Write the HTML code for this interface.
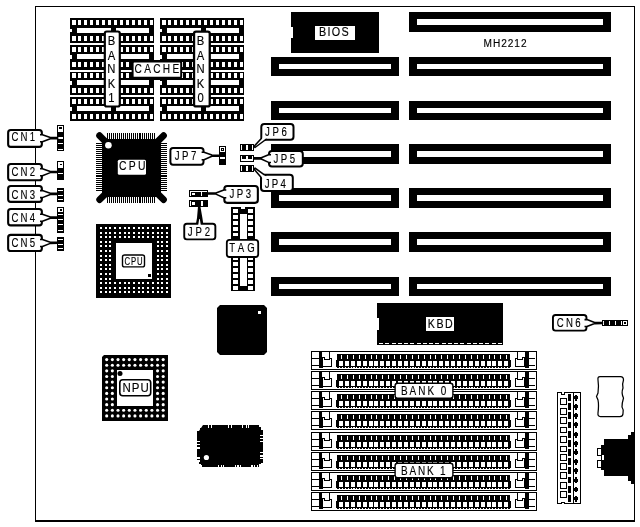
<!DOCTYPE html>
<html lang="en">
<head>
<meta charset="utf-8">
<title>MH2212 motherboard layout</title>
<style>
html,body{margin:0;padding:0;background:#fff;}
body{width:640px;height:527px;overflow:hidden;}
svg{display:block;will-change:transform;}
svg text{font-family:"Liberation Sans",sans-serif;fill:#000;stroke:#000;stroke-width:0.15px;}
</style>
</head>
<body>
<svg width="640" height="527" viewBox="0 0 640 527">
<rect x="0" y="0" width="640" height="527" fill="#fff"/>
<g shape-rendering="crispEdges">
<rect x="35" y="6" width="600" height="1" fill="#000"/>
<rect x="35" y="6" width="1" height="516" fill="#000"/>
<rect x="634" y="6" width="1" height="516" fill="#000"/>
<rect x="35" y="520" width="600" height="2" fill="#000"/>
<rect x="409" y="12" width="202" height="20" fill="#000"/>
<rect x="417" y="19" width="186" height="6" fill="#fff"/>
<rect x="409" y="57" width="202" height="19" fill="#000"/>
<rect x="417" y="64" width="186" height="5" fill="#fff"/>
<rect x="271" y="57" width="128" height="19" fill="#000"/>
<rect x="279" y="64" width="112" height="5" fill="#fff"/>
<rect x="409" y="101" width="202" height="19" fill="#000"/>
<rect x="417" y="108" width="186" height="5" fill="#fff"/>
<rect x="271" y="101" width="128" height="19" fill="#000"/>
<rect x="279" y="108" width="112" height="5" fill="#fff"/>
<rect x="409" y="144" width="202" height="20" fill="#000"/>
<rect x="417" y="151" width="186" height="6" fill="#fff"/>
<rect x="271" y="144" width="128" height="20" fill="#000"/>
<rect x="279" y="151" width="112" height="6" fill="#fff"/>
<rect x="409" y="188" width="202" height="20" fill="#000"/>
<rect x="417" y="195" width="186" height="6" fill="#fff"/>
<rect x="271" y="188" width="128" height="20" fill="#000"/>
<rect x="279" y="195" width="112" height="6" fill="#fff"/>
<rect x="409" y="232" width="202" height="20" fill="#000"/>
<rect x="417" y="239" width="186" height="6" fill="#fff"/>
<rect x="271" y="232" width="128" height="20" fill="#000"/>
<rect x="279" y="239" width="112" height="6" fill="#fff"/>
<rect x="409" y="277" width="202" height="19" fill="#000"/>
<rect x="417" y="284" width="186" height="5" fill="#fff"/>
<rect x="271" y="277" width="128" height="19" fill="#000"/>
<rect x="279" y="284" width="112" height="5" fill="#fff"/>
<rect x="291" y="12" width="88" height="41" fill="#000"/>
<rect x="291" y="27" width="2" height="11" fill="#fff"/>
<rect x="314.7" y="26.3" width="40.3" height="13.5" fill="#fff"/>
<rect x="377" y="303" width="126" height="42" fill="#000"/>
<rect x="377" y="318" width="2" height="12" fill="#fff"/>
<rect x="379" y="343" width="4" height="1" fill="#fff"/>
<rect x="385.25" y="343" width="4" height="1" fill="#fff"/>
<rect x="391.5" y="343" width="4" height="1" fill="#fff"/>
<rect x="397.75" y="343" width="4" height="1" fill="#fff"/>
<rect x="404" y="343" width="4" height="1" fill="#fff"/>
<rect x="410.25" y="343" width="4" height="1" fill="#fff"/>
<rect x="416.5" y="343" width="4" height="1" fill="#fff"/>
<rect x="422.75" y="343" width="4" height="1" fill="#fff"/>
<rect x="429" y="343" width="4" height="1" fill="#fff"/>
<rect x="435.25" y="343" width="4" height="1" fill="#fff"/>
<rect x="441.5" y="343" width="4" height="1" fill="#fff"/>
<rect x="447.75" y="343" width="4" height="1" fill="#fff"/>
<rect x="454" y="343" width="4" height="1" fill="#fff"/>
<rect x="460.25" y="343" width="4" height="1" fill="#fff"/>
<rect x="466.5" y="343" width="4" height="1" fill="#fff"/>
<rect x="472.75" y="343" width="4" height="1" fill="#fff"/>
<rect x="479" y="343" width="4" height="1" fill="#fff"/>
<rect x="485.25" y="343" width="4" height="1" fill="#fff"/>
<rect x="491.5" y="343" width="4" height="1" fill="#fff"/>
<rect x="497.75" y="343" width="4" height="1" fill="#fff"/>
<rect x="426" y="316.6" width="28" height="14.4" fill="#fff"/>
<rect x="70" y="18" width="84" height="25" fill="#000"/>
<rect x="77" y="28.4" width="72" height="4.4" fill="#fff"/>
<rect x="70" y="29.2" width="2" height="2.8" fill="#fff"/>
<rect x="72" y="20" width="4" height="5" fill="#fff"/>
<rect x="72" y="36" width="4" height="5" fill="#fff"/>
<rect x="78" y="20" width="3" height="5" fill="#fff"/>
<rect x="78" y="36" width="3" height="5" fill="#fff"/>
<rect x="84" y="20" width="3" height="5" fill="#fff"/>
<rect x="84" y="36" width="3" height="5" fill="#fff"/>
<rect x="90" y="20" width="3" height="5" fill="#fff"/>
<rect x="90" y="36" width="3" height="5" fill="#fff"/>
<rect x="96" y="20" width="3" height="5" fill="#fff"/>
<rect x="96" y="36" width="3" height="5" fill="#fff"/>
<rect x="102" y="20" width="3" height="5" fill="#fff"/>
<rect x="102" y="36" width="3" height="5" fill="#fff"/>
<rect x="108" y="20" width="3" height="5" fill="#fff"/>
<rect x="108" y="36" width="3" height="5" fill="#fff"/>
<rect x="114" y="20" width="3" height="5" fill="#fff"/>
<rect x="114" y="36" width="3" height="5" fill="#fff"/>
<rect x="120" y="20" width="3" height="5" fill="#fff"/>
<rect x="120" y="36" width="3" height="5" fill="#fff"/>
<rect x="126" y="20" width="3" height="5" fill="#fff"/>
<rect x="126" y="36" width="3" height="5" fill="#fff"/>
<rect x="132" y="20" width="3" height="5" fill="#fff"/>
<rect x="132" y="36" width="3" height="5" fill="#fff"/>
<rect x="138" y="20" width="3" height="5" fill="#fff"/>
<rect x="138" y="36" width="3" height="5" fill="#fff"/>
<rect x="144" y="20" width="3" height="5" fill="#fff"/>
<rect x="144" y="36" width="3" height="5" fill="#fff"/>
<rect x="150" y="20" width="3" height="5" fill="#fff"/>
<rect x="150" y="36" width="3" height="5" fill="#fff"/>
<rect x="70" y="45" width="84" height="24.5" fill="#000"/>
<rect x="77" y="54.4" width="72" height="4.9" fill="#fff"/>
<rect x="70" y="55.2" width="2" height="3.3" fill="#fff"/>
<rect x="72" y="47" width="4" height="5" fill="#fff"/>
<rect x="72" y="62" width="4" height="5" fill="#fff"/>
<rect x="78" y="47" width="3" height="5" fill="#fff"/>
<rect x="78" y="62" width="3" height="5" fill="#fff"/>
<rect x="84" y="47" width="3" height="5" fill="#fff"/>
<rect x="84" y="62" width="3" height="5" fill="#fff"/>
<rect x="90" y="47" width="3" height="5" fill="#fff"/>
<rect x="90" y="62" width="3" height="5" fill="#fff"/>
<rect x="96" y="47" width="3" height="5" fill="#fff"/>
<rect x="96" y="62" width="3" height="5" fill="#fff"/>
<rect x="102" y="47" width="3" height="5" fill="#fff"/>
<rect x="102" y="62" width="3" height="5" fill="#fff"/>
<rect x="108" y="47" width="3" height="5" fill="#fff"/>
<rect x="108" y="62" width="3" height="5" fill="#fff"/>
<rect x="114" y="47" width="3" height="5" fill="#fff"/>
<rect x="114" y="62" width="3" height="5" fill="#fff"/>
<rect x="120" y="47" width="3" height="5" fill="#fff"/>
<rect x="120" y="62" width="3" height="5" fill="#fff"/>
<rect x="126" y="47" width="3" height="5" fill="#fff"/>
<rect x="126" y="62" width="3" height="5" fill="#fff"/>
<rect x="132" y="47" width="3" height="5" fill="#fff"/>
<rect x="132" y="62" width="3" height="5" fill="#fff"/>
<rect x="138" y="47" width="3" height="5" fill="#fff"/>
<rect x="138" y="62" width="3" height="5" fill="#fff"/>
<rect x="144" y="47" width="3" height="5" fill="#fff"/>
<rect x="144" y="62" width="3" height="5" fill="#fff"/>
<rect x="150" y="47" width="3" height="5" fill="#fff"/>
<rect x="150" y="62" width="3" height="5" fill="#fff"/>
<rect x="70" y="71.5" width="84" height="23.5" fill="#000"/>
<rect x="77" y="80.4" width="72" height="5" fill="#fff"/>
<rect x="70" y="81.2" width="2" height="3.4" fill="#fff"/>
<rect x="72" y="73" width="4" height="5" fill="#fff"/>
<rect x="72" y="88" width="4" height="4.8" fill="#fff"/>
<rect x="78" y="73" width="3" height="5" fill="#fff"/>
<rect x="78" y="88" width="3" height="4.8" fill="#fff"/>
<rect x="84" y="73" width="3" height="5" fill="#fff"/>
<rect x="84" y="88" width="3" height="4.8" fill="#fff"/>
<rect x="90" y="73" width="3" height="5" fill="#fff"/>
<rect x="90" y="88" width="3" height="4.8" fill="#fff"/>
<rect x="96" y="73" width="3" height="5" fill="#fff"/>
<rect x="96" y="88" width="3" height="4.8" fill="#fff"/>
<rect x="102" y="73" width="3" height="5" fill="#fff"/>
<rect x="102" y="88" width="3" height="4.8" fill="#fff"/>
<rect x="108" y="73" width="3" height="5" fill="#fff"/>
<rect x="108" y="88" width="3" height="4.8" fill="#fff"/>
<rect x="114" y="73" width="3" height="5" fill="#fff"/>
<rect x="114" y="88" width="3" height="4.8" fill="#fff"/>
<rect x="120" y="73" width="3" height="5" fill="#fff"/>
<rect x="120" y="88" width="3" height="4.8" fill="#fff"/>
<rect x="126" y="73" width="3" height="5" fill="#fff"/>
<rect x="126" y="88" width="3" height="4.8" fill="#fff"/>
<rect x="132" y="73" width="3" height="5" fill="#fff"/>
<rect x="132" y="88" width="3" height="4.8" fill="#fff"/>
<rect x="138" y="73" width="3" height="5" fill="#fff"/>
<rect x="138" y="88" width="3" height="4.8" fill="#fff"/>
<rect x="144" y="73" width="3" height="5" fill="#fff"/>
<rect x="144" y="88" width="3" height="4.8" fill="#fff"/>
<rect x="150" y="73" width="3" height="5" fill="#fff"/>
<rect x="150" y="88" width="3" height="4.8" fill="#fff"/>
<rect x="70" y="96.6" width="84" height="24" fill="#000"/>
<rect x="77" y="105.9" width="72" height="5.4" fill="#fff"/>
<rect x="70" y="106.7" width="2" height="3.8" fill="#fff"/>
<rect x="72" y="99" width="4" height="5" fill="#fff"/>
<rect x="72" y="114" width="4" height="5" fill="#fff"/>
<rect x="78" y="99" width="3" height="5" fill="#fff"/>
<rect x="78" y="114" width="3" height="5" fill="#fff"/>
<rect x="84" y="99" width="3" height="5" fill="#fff"/>
<rect x="84" y="114" width="3" height="5" fill="#fff"/>
<rect x="90" y="99" width="3" height="5" fill="#fff"/>
<rect x="90" y="114" width="3" height="5" fill="#fff"/>
<rect x="96" y="99" width="3" height="5" fill="#fff"/>
<rect x="96" y="114" width="3" height="5" fill="#fff"/>
<rect x="102" y="99" width="3" height="5" fill="#fff"/>
<rect x="102" y="114" width="3" height="5" fill="#fff"/>
<rect x="108" y="99" width="3" height="5" fill="#fff"/>
<rect x="108" y="114" width="3" height="5" fill="#fff"/>
<rect x="114" y="99" width="3" height="5" fill="#fff"/>
<rect x="114" y="114" width="3" height="5" fill="#fff"/>
<rect x="120" y="99" width="3" height="5" fill="#fff"/>
<rect x="120" y="114" width="3" height="5" fill="#fff"/>
<rect x="126" y="99" width="3" height="5" fill="#fff"/>
<rect x="126" y="114" width="3" height="5" fill="#fff"/>
<rect x="132" y="99" width="3" height="5" fill="#fff"/>
<rect x="132" y="114" width="3" height="5" fill="#fff"/>
<rect x="138" y="99" width="3" height="5" fill="#fff"/>
<rect x="138" y="114" width="3" height="5" fill="#fff"/>
<rect x="144" y="99" width="3" height="5" fill="#fff"/>
<rect x="144" y="114" width="3" height="5" fill="#fff"/>
<rect x="150" y="99" width="3" height="5" fill="#fff"/>
<rect x="150" y="114" width="3" height="5" fill="#fff"/>
<rect x="160" y="18" width="84" height="25" fill="#000"/>
<rect x="167" y="28.4" width="72" height="4.4" fill="#fff"/>
<rect x="160" y="29.2" width="2" height="2.8" fill="#fff"/>
<rect x="162" y="20" width="4" height="5" fill="#fff"/>
<rect x="162" y="36" width="4" height="5" fill="#fff"/>
<rect x="168" y="20" width="3" height="5" fill="#fff"/>
<rect x="168" y="36" width="3" height="5" fill="#fff"/>
<rect x="174" y="20" width="3" height="5" fill="#fff"/>
<rect x="174" y="36" width="3" height="5" fill="#fff"/>
<rect x="180" y="20" width="3" height="5" fill="#fff"/>
<rect x="180" y="36" width="3" height="5" fill="#fff"/>
<rect x="186" y="20" width="3" height="5" fill="#fff"/>
<rect x="186" y="36" width="3" height="5" fill="#fff"/>
<rect x="192" y="20" width="3" height="5" fill="#fff"/>
<rect x="192" y="36" width="3" height="5" fill="#fff"/>
<rect x="198" y="20" width="3" height="5" fill="#fff"/>
<rect x="198" y="36" width="3" height="5" fill="#fff"/>
<rect x="204" y="20" width="3" height="5" fill="#fff"/>
<rect x="204" y="36" width="3" height="5" fill="#fff"/>
<rect x="210" y="20" width="3" height="5" fill="#fff"/>
<rect x="210" y="36" width="3" height="5" fill="#fff"/>
<rect x="216" y="20" width="3" height="5" fill="#fff"/>
<rect x="216" y="36" width="3" height="5" fill="#fff"/>
<rect x="222" y="20" width="3" height="5" fill="#fff"/>
<rect x="222" y="36" width="3" height="5" fill="#fff"/>
<rect x="228" y="20" width="3" height="5" fill="#fff"/>
<rect x="228" y="36" width="3" height="5" fill="#fff"/>
<rect x="234" y="20" width="3" height="5" fill="#fff"/>
<rect x="234" y="36" width="3" height="5" fill="#fff"/>
<rect x="240" y="20" width="3" height="5" fill="#fff"/>
<rect x="240" y="36" width="3" height="5" fill="#fff"/>
<rect x="160" y="45" width="84" height="24.5" fill="#000"/>
<rect x="167" y="54.4" width="72" height="4.9" fill="#fff"/>
<rect x="160" y="55.2" width="2" height="3.3" fill="#fff"/>
<rect x="162" y="47" width="4" height="5" fill="#fff"/>
<rect x="162" y="62" width="4" height="5" fill="#fff"/>
<rect x="168" y="47" width="3" height="5" fill="#fff"/>
<rect x="168" y="62" width="3" height="5" fill="#fff"/>
<rect x="174" y="47" width="3" height="5" fill="#fff"/>
<rect x="174" y="62" width="3" height="5" fill="#fff"/>
<rect x="180" y="47" width="3" height="5" fill="#fff"/>
<rect x="180" y="62" width="3" height="5" fill="#fff"/>
<rect x="186" y="47" width="3" height="5" fill="#fff"/>
<rect x="186" y="62" width="3" height="5" fill="#fff"/>
<rect x="192" y="47" width="3" height="5" fill="#fff"/>
<rect x="192" y="62" width="3" height="5" fill="#fff"/>
<rect x="198" y="47" width="3" height="5" fill="#fff"/>
<rect x="198" y="62" width="3" height="5" fill="#fff"/>
<rect x="204" y="47" width="3" height="5" fill="#fff"/>
<rect x="204" y="62" width="3" height="5" fill="#fff"/>
<rect x="210" y="47" width="3" height="5" fill="#fff"/>
<rect x="210" y="62" width="3" height="5" fill="#fff"/>
<rect x="216" y="47" width="3" height="5" fill="#fff"/>
<rect x="216" y="62" width="3" height="5" fill="#fff"/>
<rect x="222" y="47" width="3" height="5" fill="#fff"/>
<rect x="222" y="62" width="3" height="5" fill="#fff"/>
<rect x="228" y="47" width="3" height="5" fill="#fff"/>
<rect x="228" y="62" width="3" height="5" fill="#fff"/>
<rect x="234" y="47" width="3" height="5" fill="#fff"/>
<rect x="234" y="62" width="3" height="5" fill="#fff"/>
<rect x="240" y="47" width="3" height="5" fill="#fff"/>
<rect x="240" y="62" width="3" height="5" fill="#fff"/>
<rect x="160" y="71.5" width="84" height="23.5" fill="#000"/>
<rect x="167" y="80.4" width="72" height="5" fill="#fff"/>
<rect x="160" y="81.2" width="2" height="3.4" fill="#fff"/>
<rect x="162" y="73" width="4" height="5" fill="#fff"/>
<rect x="162" y="88" width="4" height="4.8" fill="#fff"/>
<rect x="168" y="73" width="3" height="5" fill="#fff"/>
<rect x="168" y="88" width="3" height="4.8" fill="#fff"/>
<rect x="174" y="73" width="3" height="5" fill="#fff"/>
<rect x="174" y="88" width="3" height="4.8" fill="#fff"/>
<rect x="180" y="73" width="3" height="5" fill="#fff"/>
<rect x="180" y="88" width="3" height="4.8" fill="#fff"/>
<rect x="186" y="73" width="3" height="5" fill="#fff"/>
<rect x="186" y="88" width="3" height="4.8" fill="#fff"/>
<rect x="192" y="73" width="3" height="5" fill="#fff"/>
<rect x="192" y="88" width="3" height="4.8" fill="#fff"/>
<rect x="198" y="73" width="3" height="5" fill="#fff"/>
<rect x="198" y="88" width="3" height="4.8" fill="#fff"/>
<rect x="204" y="73" width="3" height="5" fill="#fff"/>
<rect x="204" y="88" width="3" height="4.8" fill="#fff"/>
<rect x="210" y="73" width="3" height="5" fill="#fff"/>
<rect x="210" y="88" width="3" height="4.8" fill="#fff"/>
<rect x="216" y="73" width="3" height="5" fill="#fff"/>
<rect x="216" y="88" width="3" height="4.8" fill="#fff"/>
<rect x="222" y="73" width="3" height="5" fill="#fff"/>
<rect x="222" y="88" width="3" height="4.8" fill="#fff"/>
<rect x="228" y="73" width="3" height="5" fill="#fff"/>
<rect x="228" y="88" width="3" height="4.8" fill="#fff"/>
<rect x="234" y="73" width="3" height="5" fill="#fff"/>
<rect x="234" y="88" width="3" height="4.8" fill="#fff"/>
<rect x="240" y="73" width="3" height="5" fill="#fff"/>
<rect x="240" y="88" width="3" height="4.8" fill="#fff"/>
<rect x="160" y="96.6" width="84" height="24" fill="#000"/>
<rect x="167" y="105.9" width="72" height="5.4" fill="#fff"/>
<rect x="160" y="106.7" width="2" height="3.8" fill="#fff"/>
<rect x="162" y="99" width="4" height="5" fill="#fff"/>
<rect x="162" y="114" width="4" height="5" fill="#fff"/>
<rect x="168" y="99" width="3" height="5" fill="#fff"/>
<rect x="168" y="114" width="3" height="5" fill="#fff"/>
<rect x="174" y="99" width="3" height="5" fill="#fff"/>
<rect x="174" y="114" width="3" height="5" fill="#fff"/>
<rect x="180" y="99" width="3" height="5" fill="#fff"/>
<rect x="180" y="114" width="3" height="5" fill="#fff"/>
<rect x="186" y="99" width="3" height="5" fill="#fff"/>
<rect x="186" y="114" width="3" height="5" fill="#fff"/>
<rect x="192" y="99" width="3" height="5" fill="#fff"/>
<rect x="192" y="114" width="3" height="5" fill="#fff"/>
<rect x="198" y="99" width="3" height="5" fill="#fff"/>
<rect x="198" y="114" width="3" height="5" fill="#fff"/>
<rect x="204" y="99" width="3" height="5" fill="#fff"/>
<rect x="204" y="114" width="3" height="5" fill="#fff"/>
<rect x="210" y="99" width="3" height="5" fill="#fff"/>
<rect x="210" y="114" width="3" height="5" fill="#fff"/>
<rect x="216" y="99" width="3" height="5" fill="#fff"/>
<rect x="216" y="114" width="3" height="5" fill="#fff"/>
<rect x="222" y="99" width="3" height="5" fill="#fff"/>
<rect x="222" y="114" width="3" height="5" fill="#fff"/>
<rect x="228" y="99" width="3" height="5" fill="#fff"/>
<rect x="228" y="114" width="3" height="5" fill="#fff"/>
<rect x="234" y="99" width="3" height="5" fill="#fff"/>
<rect x="234" y="114" width="3" height="5" fill="#fff"/>
<rect x="240" y="99" width="3" height="5" fill="#fff"/>
<rect x="240" y="114" width="3" height="5" fill="#fff"/>
<rect x="111.1" y="27" width="4.4" height="6" fill="#000"/>
<rect x="111.1" y="105" width="4.4" height="7" fill="#000"/>
<rect x="201.1" y="27" width="4.4" height="6" fill="#000"/>
<rect x="201.1" y="105" width="4.4" height="7" fill="#000"/>
<rect x="154" y="59.5" width="6" height="20" fill="#000"/>
</g>
<rect x="104.8" y="31.5" width="15" height="75" rx="2" fill="#fff" stroke="#000" stroke-width="2.2"/>
<rect x="194.05" y="31.55" width="15.7" height="74.9" rx="2" fill="#fff" stroke="#000" stroke-width="2.3"/>
<rect x="132.6" y="61.6" width="48.6" height="16.2" rx="1.5" fill="#fff" stroke="#000" stroke-width="2"/>
<g shape-rendering="crispEdges">
<rect x="231" y="207" width="23.9" height="83.8" fill="#000"/>
<rect x="240.4" y="214" width="6.2" height="72.4" fill="#fff"/>
<rect x="240.6" y="207" width="4.8" height="2" fill="#fff"/>
<rect x="233" y="209" width="5.4" height="3.7" fill="#fff"/>
<rect x="248" y="209" width="5.2" height="3.7" fill="#fff"/>
<rect x="233" y="214.94" width="5.4" height="3.7" fill="#fff"/>
<rect x="248" y="214.94" width="5.2" height="3.7" fill="#fff"/>
<rect x="233" y="220.88" width="5.4" height="3.7" fill="#fff"/>
<rect x="248" y="220.88" width="5.2" height="3.7" fill="#fff"/>
<rect x="233" y="226.82" width="5.4" height="3.7" fill="#fff"/>
<rect x="248" y="226.82" width="5.2" height="3.7" fill="#fff"/>
<rect x="233" y="232.76" width="5.4" height="3.7" fill="#fff"/>
<rect x="248" y="232.76" width="5.2" height="3.7" fill="#fff"/>
<rect x="233" y="238.7" width="5.4" height="3.7" fill="#fff"/>
<rect x="248" y="238.7" width="5.2" height="3.7" fill="#fff"/>
<rect x="233" y="244.64" width="5.4" height="3.7" fill="#fff"/>
<rect x="248" y="244.64" width="5.2" height="3.7" fill="#fff"/>
<rect x="233" y="250.58" width="5.4" height="3.7" fill="#fff"/>
<rect x="248" y="250.58" width="5.2" height="3.7" fill="#fff"/>
<rect x="233" y="256.52" width="5.4" height="3.7" fill="#fff"/>
<rect x="248" y="256.52" width="5.2" height="3.7" fill="#fff"/>
<rect x="233" y="262.46" width="5.4" height="3.7" fill="#fff"/>
<rect x="248" y="262.46" width="5.2" height="3.7" fill="#fff"/>
<rect x="233" y="268.4" width="5.4" height="3.7" fill="#fff"/>
<rect x="248" y="268.4" width="5.2" height="3.7" fill="#fff"/>
<rect x="233" y="274.34" width="5.4" height="3.7" fill="#fff"/>
<rect x="248" y="274.34" width="5.2" height="3.7" fill="#fff"/>
<rect x="233" y="280.28" width="5.4" height="3.7" fill="#fff"/>
<rect x="248" y="280.28" width="5.2" height="3.7" fill="#fff"/>
<rect x="233" y="286.22" width="5.4" height="3.7" fill="#fff"/>
<rect x="248" y="286.22" width="5.2" height="3.7" fill="#fff"/>
</g>
<g shape-rendering="crispEdges">
<rect x="102" y="139" width="59" height="58" fill="#000"/>
<rect x="107" y="133" width="1" height="6" fill="#000"/>
<rect x="107" y="197" width="1" height="6" fill="#000"/>
<rect x="108.97" y="133" width="1" height="6" fill="#000"/>
<rect x="108.97" y="197" width="1" height="6" fill="#000"/>
<rect x="110.94" y="133" width="1" height="6" fill="#000"/>
<rect x="110.94" y="197" width="1" height="6" fill="#000"/>
<rect x="112.91" y="133" width="1" height="6" fill="#000"/>
<rect x="112.91" y="197" width="1" height="6" fill="#000"/>
<rect x="114.88" y="133" width="1" height="6" fill="#000"/>
<rect x="114.88" y="197" width="1" height="6" fill="#000"/>
<rect x="116.85" y="133" width="1" height="6" fill="#000"/>
<rect x="116.85" y="197" width="1" height="6" fill="#000"/>
<rect x="118.82" y="133" width="1" height="6" fill="#000"/>
<rect x="118.82" y="197" width="1" height="6" fill="#000"/>
<rect x="120.79" y="133" width="1" height="6" fill="#000"/>
<rect x="120.79" y="197" width="1" height="6" fill="#000"/>
<rect x="122.76" y="133" width="1" height="6" fill="#000"/>
<rect x="122.76" y="197" width="1" height="6" fill="#000"/>
<rect x="124.73" y="133" width="1" height="6" fill="#000"/>
<rect x="124.73" y="197" width="1" height="6" fill="#000"/>
<rect x="126.7" y="133" width="1" height="6" fill="#000"/>
<rect x="126.7" y="197" width="1" height="6" fill="#000"/>
<rect x="128.67" y="133" width="1" height="6" fill="#000"/>
<rect x="128.67" y="197" width="1" height="6" fill="#000"/>
<rect x="130.64" y="133" width="1" height="6" fill="#000"/>
<rect x="130.64" y="197" width="1" height="6" fill="#000"/>
<rect x="132.61" y="133" width="1" height="6" fill="#000"/>
<rect x="132.61" y="197" width="1" height="6" fill="#000"/>
<rect x="134.58" y="133" width="1" height="6" fill="#000"/>
<rect x="134.58" y="197" width="1" height="6" fill="#000"/>
<rect x="136.55" y="133" width="1" height="6" fill="#000"/>
<rect x="136.55" y="197" width="1" height="6" fill="#000"/>
<rect x="138.52" y="133" width="1" height="6" fill="#000"/>
<rect x="138.52" y="197" width="1" height="6" fill="#000"/>
<rect x="140.49" y="133" width="1" height="6" fill="#000"/>
<rect x="140.49" y="197" width="1" height="6" fill="#000"/>
<rect x="142.46" y="133" width="1" height="6" fill="#000"/>
<rect x="142.46" y="197" width="1" height="6" fill="#000"/>
<rect x="144.43" y="133" width="1" height="6" fill="#000"/>
<rect x="144.43" y="197" width="1" height="6" fill="#000"/>
<rect x="146.4" y="133" width="1" height="6" fill="#000"/>
<rect x="146.4" y="197" width="1" height="6" fill="#000"/>
<rect x="148.37" y="133" width="1" height="6" fill="#000"/>
<rect x="148.37" y="197" width="1" height="6" fill="#000"/>
<rect x="150.34" y="133" width="1" height="6" fill="#000"/>
<rect x="150.34" y="197" width="1" height="6" fill="#000"/>
<rect x="152.31" y="133" width="1" height="6" fill="#000"/>
<rect x="152.31" y="197" width="1" height="6" fill="#000"/>
<rect x="154.28" y="133" width="1" height="6" fill="#000"/>
<rect x="154.28" y="197" width="1" height="6" fill="#000"/>
<rect x="96" y="143" width="6" height="1" fill="#000"/>
<rect x="161" y="143" width="6" height="1" fill="#000"/>
<rect x="96" y="144.97" width="6" height="1" fill="#000"/>
<rect x="161" y="144.97" width="6" height="1" fill="#000"/>
<rect x="96" y="146.94" width="6" height="1" fill="#000"/>
<rect x="161" y="146.94" width="6" height="1" fill="#000"/>
<rect x="96" y="148.91" width="6" height="1" fill="#000"/>
<rect x="161" y="148.91" width="6" height="1" fill="#000"/>
<rect x="96" y="150.88" width="6" height="1" fill="#000"/>
<rect x="161" y="150.88" width="6" height="1" fill="#000"/>
<rect x="96" y="152.85" width="6" height="1" fill="#000"/>
<rect x="161" y="152.85" width="6" height="1" fill="#000"/>
<rect x="96" y="154.82" width="6" height="1" fill="#000"/>
<rect x="161" y="154.82" width="6" height="1" fill="#000"/>
<rect x="96" y="156.79" width="6" height="1" fill="#000"/>
<rect x="161" y="156.79" width="6" height="1" fill="#000"/>
<rect x="96" y="158.76" width="6" height="1" fill="#000"/>
<rect x="161" y="158.76" width="6" height="1" fill="#000"/>
<rect x="96" y="160.73" width="6" height="1" fill="#000"/>
<rect x="161" y="160.73" width="6" height="1" fill="#000"/>
<rect x="96" y="162.7" width="6" height="1" fill="#000"/>
<rect x="161" y="162.7" width="6" height="1" fill="#000"/>
<rect x="96" y="164.67" width="6" height="1" fill="#000"/>
<rect x="161" y="164.67" width="6" height="1" fill="#000"/>
<rect x="96" y="166.64" width="6" height="1" fill="#000"/>
<rect x="161" y="166.64" width="6" height="1" fill="#000"/>
<rect x="96" y="168.61" width="6" height="1" fill="#000"/>
<rect x="161" y="168.61" width="6" height="1" fill="#000"/>
<rect x="96" y="170.58" width="6" height="1" fill="#000"/>
<rect x="161" y="170.58" width="6" height="1" fill="#000"/>
<rect x="96" y="172.55" width="6" height="1" fill="#000"/>
<rect x="161" y="172.55" width="6" height="1" fill="#000"/>
<rect x="96" y="174.52" width="6" height="1" fill="#000"/>
<rect x="161" y="174.52" width="6" height="1" fill="#000"/>
<rect x="96" y="176.49" width="6" height="1" fill="#000"/>
<rect x="161" y="176.49" width="6" height="1" fill="#000"/>
<rect x="96" y="178.46" width="6" height="1" fill="#000"/>
<rect x="161" y="178.46" width="6" height="1" fill="#000"/>
<rect x="96" y="180.43" width="6" height="1" fill="#000"/>
<rect x="161" y="180.43" width="6" height="1" fill="#000"/>
<rect x="96" y="182.4" width="6" height="1" fill="#000"/>
<rect x="161" y="182.4" width="6" height="1" fill="#000"/>
<rect x="96" y="184.37" width="6" height="1" fill="#000"/>
<rect x="161" y="184.37" width="6" height="1" fill="#000"/>
<rect x="96" y="186.34" width="6" height="1" fill="#000"/>
<rect x="161" y="186.34" width="6" height="1" fill="#000"/>
<rect x="96" y="188.31" width="6" height="1" fill="#000"/>
<rect x="161" y="188.31" width="6" height="1" fill="#000"/>
<rect x="96" y="190.28" width="6" height="1" fill="#000"/>
<rect x="161" y="190.28" width="6" height="1" fill="#000"/>
</g>
<line x1="99.5" y1="135.6" x2="106" y2="142.1" stroke="#000" stroke-width="6.6" stroke-linecap="round"/>
<line x1="163.6" y1="135.6" x2="157" y2="142.2" stroke="#000" stroke-width="6.6" stroke-linecap="round"/>
<line x1="99.6" y1="199.7" x2="106" y2="193.3" stroke="#000" stroke-width="6.6" stroke-linecap="round"/>
<line x1="163.6" y1="199.7" x2="157" y2="193.1" stroke="#000" stroke-width="6.6" stroke-linecap="round"/>
<circle cx="108.4" cy="145.3" r="3.3" fill="#fff"/>
<rect x="117.8" y="159.8" width="28.2" height="14.9" rx="1.5" fill="#fff"/>
<g shape-rendering="crispEdges">
<rect x="96" y="224" width="74.6" height="74" fill="#000"/>
<rect x="100" y="227" width="2" height="2" fill="#fff"/>
<rect x="100" y="232" width="2" height="2" fill="#fff"/>
<rect x="100" y="236" width="2" height="2" fill="#fff"/>
<rect x="100" y="241" width="2" height="2" fill="#fff"/>
<rect x="100" y="245" width="2" height="2" fill="#fff"/>
<rect x="100" y="250" width="2" height="2" fill="#fff"/>
<rect x="100" y="255" width="2" height="2" fill="#fff"/>
<rect x="100" y="259" width="2" height="2" fill="#fff"/>
<rect x="100" y="264" width="2" height="2" fill="#fff"/>
<rect x="100" y="268" width="2" height="2" fill="#fff"/>
<rect x="100" y="273" width="2" height="2" fill="#fff"/>
<rect x="100" y="278" width="2" height="2" fill="#fff"/>
<rect x="100" y="282" width="2" height="2" fill="#fff"/>
<rect x="100" y="287" width="2" height="2" fill="#fff"/>
<rect x="100" y="291" width="2" height="2" fill="#fff"/>
<rect x="105" y="227" width="2" height="2" fill="#fff"/>
<rect x="105" y="232" width="2" height="2" fill="#fff"/>
<rect x="105" y="236" width="2" height="2" fill="#fff"/>
<rect x="105" y="241" width="2" height="2" fill="#fff"/>
<rect x="105" y="245" width="2" height="2" fill="#fff"/>
<rect x="105" y="250" width="2" height="2" fill="#fff"/>
<rect x="105" y="255" width="2" height="2" fill="#fff"/>
<rect x="105" y="259" width="2" height="2" fill="#fff"/>
<rect x="105" y="264" width="2" height="2" fill="#fff"/>
<rect x="105" y="268" width="2" height="2" fill="#fff"/>
<rect x="105" y="273" width="2" height="2" fill="#fff"/>
<rect x="105" y="278" width="2" height="2" fill="#fff"/>
<rect x="105" y="282" width="2" height="2" fill="#fff"/>
<rect x="105" y="287" width="2" height="2" fill="#fff"/>
<rect x="105" y="291" width="2" height="2" fill="#fff"/>
<rect x="109" y="227" width="2" height="2" fill="#fff"/>
<rect x="109" y="232" width="2" height="2" fill="#fff"/>
<rect x="109" y="236" width="2" height="2" fill="#fff"/>
<rect x="109" y="241" width="2" height="2" fill="#fff"/>
<rect x="109" y="245" width="2" height="2" fill="#fff"/>
<rect x="109" y="250" width="2" height="2" fill="#fff"/>
<rect x="109" y="255" width="2" height="2" fill="#fff"/>
<rect x="109" y="259" width="2" height="2" fill="#fff"/>
<rect x="109" y="264" width="2" height="2" fill="#fff"/>
<rect x="109" y="268" width="2" height="2" fill="#fff"/>
<rect x="109" y="273" width="2" height="2" fill="#fff"/>
<rect x="109" y="278" width="2" height="2" fill="#fff"/>
<rect x="109" y="282" width="2" height="2" fill="#fff"/>
<rect x="109" y="287" width="2" height="2" fill="#fff"/>
<rect x="109" y="291" width="2" height="2" fill="#fff"/>
<rect x="114" y="227" width="2" height="2" fill="#fff"/>
<rect x="114" y="232" width="2" height="2" fill="#fff"/>
<rect x="114" y="236" width="2" height="2" fill="#fff"/>
<rect x="114" y="241" width="2" height="2" fill="#fff"/>
<rect x="114" y="245" width="2" height="2" fill="#fff"/>
<rect x="114" y="250" width="2" height="2" fill="#fff"/>
<rect x="114" y="255" width="2" height="2" fill="#fff"/>
<rect x="114" y="259" width="2" height="2" fill="#fff"/>
<rect x="114" y="264" width="2" height="2" fill="#fff"/>
<rect x="114" y="268" width="2" height="2" fill="#fff"/>
<rect x="114" y="273" width="2" height="2" fill="#fff"/>
<rect x="114" y="278" width="2" height="2" fill="#fff"/>
<rect x="114" y="282" width="2" height="2" fill="#fff"/>
<rect x="114" y="287" width="2" height="2" fill="#fff"/>
<rect x="114" y="291" width="2" height="2" fill="#fff"/>
<rect x="119" y="227" width="2" height="2" fill="#fff"/>
<rect x="119" y="232" width="2" height="2" fill="#fff"/>
<rect x="119" y="236" width="2" height="2" fill="#fff"/>
<rect x="119" y="241" width="2" height="2" fill="#fff"/>
<rect x="119" y="245" width="2" height="2" fill="#fff"/>
<rect x="119" y="250" width="2" height="2" fill="#fff"/>
<rect x="119" y="255" width="2" height="2" fill="#fff"/>
<rect x="119" y="259" width="2" height="2" fill="#fff"/>
<rect x="119" y="264" width="2" height="2" fill="#fff"/>
<rect x="119" y="268" width="2" height="2" fill="#fff"/>
<rect x="119" y="273" width="2" height="2" fill="#fff"/>
<rect x="119" y="278" width="2" height="2" fill="#fff"/>
<rect x="119" y="282" width="2" height="2" fill="#fff"/>
<rect x="119" y="287" width="2" height="2" fill="#fff"/>
<rect x="119" y="291" width="2" height="2" fill="#fff"/>
<rect x="124" y="227" width="2" height="2" fill="#fff"/>
<rect x="124" y="232" width="2" height="2" fill="#fff"/>
<rect x="124" y="236" width="2" height="2" fill="#fff"/>
<rect x="124" y="241" width="2" height="2" fill="#fff"/>
<rect x="124" y="245" width="2" height="2" fill="#fff"/>
<rect x="124" y="250" width="2" height="2" fill="#fff"/>
<rect x="124" y="255" width="2" height="2" fill="#fff"/>
<rect x="124" y="259" width="2" height="2" fill="#fff"/>
<rect x="124" y="264" width="2" height="2" fill="#fff"/>
<rect x="124" y="268" width="2" height="2" fill="#fff"/>
<rect x="124" y="273" width="2" height="2" fill="#fff"/>
<rect x="124" y="278" width="2" height="2" fill="#fff"/>
<rect x="124" y="282" width="2" height="2" fill="#fff"/>
<rect x="124" y="287" width="2" height="2" fill="#fff"/>
<rect x="124" y="291" width="2" height="2" fill="#fff"/>
<rect x="128" y="227" width="2" height="2" fill="#fff"/>
<rect x="128" y="232" width="2" height="2" fill="#fff"/>
<rect x="128" y="236" width="2" height="2" fill="#fff"/>
<rect x="128" y="241" width="2" height="2" fill="#fff"/>
<rect x="128" y="245" width="2" height="2" fill="#fff"/>
<rect x="128" y="250" width="2" height="2" fill="#fff"/>
<rect x="128" y="255" width="2" height="2" fill="#fff"/>
<rect x="128" y="259" width="2" height="2" fill="#fff"/>
<rect x="128" y="264" width="2" height="2" fill="#fff"/>
<rect x="128" y="268" width="2" height="2" fill="#fff"/>
<rect x="128" y="273" width="2" height="2" fill="#fff"/>
<rect x="128" y="278" width="2" height="2" fill="#fff"/>
<rect x="128" y="282" width="2" height="2" fill="#fff"/>
<rect x="128" y="287" width="2" height="2" fill="#fff"/>
<rect x="128" y="291" width="2" height="2" fill="#fff"/>
<rect x="133" y="227" width="2" height="2" fill="#fff"/>
<rect x="133" y="232" width="2" height="2" fill="#fff"/>
<rect x="133" y="236" width="2" height="2" fill="#fff"/>
<rect x="133" y="241" width="2" height="2" fill="#fff"/>
<rect x="133" y="245" width="2" height="2" fill="#fff"/>
<rect x="133" y="250" width="2" height="2" fill="#fff"/>
<rect x="133" y="255" width="2" height="2" fill="#fff"/>
<rect x="133" y="259" width="2" height="2" fill="#fff"/>
<rect x="133" y="264" width="2" height="2" fill="#fff"/>
<rect x="133" y="268" width="2" height="2" fill="#fff"/>
<rect x="133" y="273" width="2" height="2" fill="#fff"/>
<rect x="133" y="278" width="2" height="2" fill="#fff"/>
<rect x="133" y="282" width="2" height="2" fill="#fff"/>
<rect x="133" y="287" width="2" height="2" fill="#fff"/>
<rect x="133" y="291" width="2" height="2" fill="#fff"/>
<rect x="138" y="227" width="2" height="2" fill="#fff"/>
<rect x="138" y="232" width="2" height="2" fill="#fff"/>
<rect x="138" y="236" width="2" height="2" fill="#fff"/>
<rect x="138" y="241" width="2" height="2" fill="#fff"/>
<rect x="138" y="245" width="2" height="2" fill="#fff"/>
<rect x="138" y="250" width="2" height="2" fill="#fff"/>
<rect x="138" y="255" width="2" height="2" fill="#fff"/>
<rect x="138" y="259" width="2" height="2" fill="#fff"/>
<rect x="138" y="264" width="2" height="2" fill="#fff"/>
<rect x="138" y="268" width="2" height="2" fill="#fff"/>
<rect x="138" y="273" width="2" height="2" fill="#fff"/>
<rect x="138" y="278" width="2" height="2" fill="#fff"/>
<rect x="138" y="282" width="2" height="2" fill="#fff"/>
<rect x="138" y="287" width="2" height="2" fill="#fff"/>
<rect x="138" y="291" width="2" height="2" fill="#fff"/>
<rect x="142" y="227" width="2" height="2" fill="#fff"/>
<rect x="142" y="232" width="2" height="2" fill="#fff"/>
<rect x="142" y="236" width="2" height="2" fill="#fff"/>
<rect x="142" y="241" width="2" height="2" fill="#fff"/>
<rect x="142" y="245" width="2" height="2" fill="#fff"/>
<rect x="142" y="250" width="2" height="2" fill="#fff"/>
<rect x="142" y="255" width="2" height="2" fill="#fff"/>
<rect x="142" y="259" width="2" height="2" fill="#fff"/>
<rect x="142" y="264" width="2" height="2" fill="#fff"/>
<rect x="142" y="268" width="2" height="2" fill="#fff"/>
<rect x="142" y="273" width="2" height="2" fill="#fff"/>
<rect x="142" y="278" width="2" height="2" fill="#fff"/>
<rect x="142" y="282" width="2" height="2" fill="#fff"/>
<rect x="142" y="287" width="2" height="2" fill="#fff"/>
<rect x="142" y="291" width="2" height="2" fill="#fff"/>
<rect x="147" y="227" width="2" height="2" fill="#fff"/>
<rect x="147" y="232" width="2" height="2" fill="#fff"/>
<rect x="147" y="236" width="2" height="2" fill="#fff"/>
<rect x="147" y="241" width="2" height="2" fill="#fff"/>
<rect x="147" y="245" width="2" height="2" fill="#fff"/>
<rect x="147" y="250" width="2" height="2" fill="#fff"/>
<rect x="147" y="255" width="2" height="2" fill="#fff"/>
<rect x="147" y="259" width="2" height="2" fill="#fff"/>
<rect x="147" y="264" width="2" height="2" fill="#fff"/>
<rect x="147" y="268" width="2" height="2" fill="#fff"/>
<rect x="147" y="273" width="2" height="2" fill="#fff"/>
<rect x="147" y="278" width="2" height="2" fill="#fff"/>
<rect x="147" y="282" width="2" height="2" fill="#fff"/>
<rect x="147" y="287" width="2" height="2" fill="#fff"/>
<rect x="147" y="291" width="2" height="2" fill="#fff"/>
<rect x="152" y="227" width="2" height="2" fill="#fff"/>
<rect x="152" y="232" width="2" height="2" fill="#fff"/>
<rect x="152" y="236" width="2" height="2" fill="#fff"/>
<rect x="152" y="241" width="2" height="2" fill="#fff"/>
<rect x="152" y="245" width="2" height="2" fill="#fff"/>
<rect x="152" y="250" width="2" height="2" fill="#fff"/>
<rect x="152" y="255" width="2" height="2" fill="#fff"/>
<rect x="152" y="259" width="2" height="2" fill="#fff"/>
<rect x="152" y="264" width="2" height="2" fill="#fff"/>
<rect x="152" y="268" width="2" height="2" fill="#fff"/>
<rect x="152" y="273" width="2" height="2" fill="#fff"/>
<rect x="152" y="278" width="2" height="2" fill="#fff"/>
<rect x="152" y="282" width="2" height="2" fill="#fff"/>
<rect x="152" y="287" width="2" height="2" fill="#fff"/>
<rect x="152" y="291" width="2" height="2" fill="#fff"/>
<rect x="157" y="227" width="2" height="2" fill="#fff"/>
<rect x="157" y="232" width="2" height="2" fill="#fff"/>
<rect x="157" y="236" width="2" height="2" fill="#fff"/>
<rect x="157" y="241" width="2" height="2" fill="#fff"/>
<rect x="157" y="245" width="2" height="2" fill="#fff"/>
<rect x="157" y="250" width="2" height="2" fill="#fff"/>
<rect x="157" y="255" width="2" height="2" fill="#fff"/>
<rect x="157" y="259" width="2" height="2" fill="#fff"/>
<rect x="157" y="264" width="2" height="2" fill="#fff"/>
<rect x="157" y="268" width="2" height="2" fill="#fff"/>
<rect x="157" y="273" width="2" height="2" fill="#fff"/>
<rect x="157" y="278" width="2" height="2" fill="#fff"/>
<rect x="157" y="282" width="2" height="2" fill="#fff"/>
<rect x="157" y="287" width="2" height="2" fill="#fff"/>
<rect x="157" y="291" width="2" height="2" fill="#fff"/>
<rect x="161" y="227" width="2" height="2" fill="#fff"/>
<rect x="161" y="232" width="2" height="2" fill="#fff"/>
<rect x="161" y="236" width="2" height="2" fill="#fff"/>
<rect x="161" y="241" width="2" height="2" fill="#fff"/>
<rect x="161" y="245" width="2" height="2" fill="#fff"/>
<rect x="161" y="250" width="2" height="2" fill="#fff"/>
<rect x="161" y="255" width="2" height="2" fill="#fff"/>
<rect x="161" y="259" width="2" height="2" fill="#fff"/>
<rect x="161" y="264" width="2" height="2" fill="#fff"/>
<rect x="161" y="268" width="2" height="2" fill="#fff"/>
<rect x="161" y="273" width="2" height="2" fill="#fff"/>
<rect x="161" y="278" width="2" height="2" fill="#fff"/>
<rect x="161" y="282" width="2" height="2" fill="#fff"/>
<rect x="161" y="287" width="2" height="2" fill="#fff"/>
<rect x="161" y="291" width="2" height="2" fill="#fff"/>
<rect x="166" y="227" width="2" height="2" fill="#fff"/>
<rect x="166" y="232" width="2" height="2" fill="#fff"/>
<rect x="166" y="236" width="2" height="2" fill="#fff"/>
<rect x="166" y="241" width="2" height="2" fill="#fff"/>
<rect x="166" y="245" width="2" height="2" fill="#fff"/>
<rect x="166" y="250" width="2" height="2" fill="#fff"/>
<rect x="166" y="255" width="2" height="2" fill="#fff"/>
<rect x="166" y="259" width="2" height="2" fill="#fff"/>
<rect x="166" y="264" width="2" height="2" fill="#fff"/>
<rect x="166" y="268" width="2" height="2" fill="#fff"/>
<rect x="166" y="273" width="2" height="2" fill="#fff"/>
<rect x="166" y="278" width="2" height="2" fill="#fff"/>
<rect x="166" y="282" width="2" height="2" fill="#fff"/>
<rect x="166" y="287" width="2" height="2" fill="#fff"/>
<rect x="166" y="291" width="2" height="2" fill="#fff"/>
<rect x="113.5" y="240.5" width="41" height="41" fill="#000"/>
<rect x="116" y="243" width="36" height="36" fill="#fff"/>
<rect x="147.8" y="274.3" width="2.8" height="2.7" fill="#000"/>
</g>
<rect x="122.5" y="255" width="22" height="11.9" rx="2" fill="#fff" stroke="#000" stroke-width="1.4"/>
<path d="M104 355 H168 V421 H102 V357 Z" fill="#000"/>
<circle cx="106.70" cy="359.60" r="1.55" fill="#fff"/>
<circle cx="106.70" cy="365.23" r="1.55" fill="#fff"/>
<circle cx="106.70" cy="370.86" r="1.55" fill="#fff"/>
<circle cx="106.70" cy="376.49" r="1.55" fill="#fff"/>
<circle cx="106.70" cy="382.12" r="1.55" fill="#fff"/>
<circle cx="106.70" cy="387.75" r="1.55" fill="#fff"/>
<circle cx="106.70" cy="393.38" r="1.55" fill="#fff"/>
<circle cx="106.70" cy="399.01" r="1.55" fill="#fff"/>
<circle cx="106.70" cy="404.64" r="1.55" fill="#fff"/>
<circle cx="106.70" cy="410.27" r="1.55" fill="#fff"/>
<circle cx="106.70" cy="415.90" r="1.55" fill="#fff"/>
<circle cx="112.35" cy="359.60" r="1.55" fill="#fff"/>
<circle cx="112.35" cy="365.23" r="1.55" fill="#fff"/>
<circle cx="112.35" cy="370.86" r="1.55" fill="#fff"/>
<circle cx="112.35" cy="376.49" r="1.55" fill="#fff"/>
<circle cx="112.35" cy="382.12" r="1.55" fill="#fff"/>
<circle cx="112.35" cy="387.75" r="1.55" fill="#fff"/>
<circle cx="112.35" cy="393.38" r="1.55" fill="#fff"/>
<circle cx="112.35" cy="399.01" r="1.55" fill="#fff"/>
<circle cx="112.35" cy="404.64" r="1.55" fill="#fff"/>
<circle cx="112.35" cy="410.27" r="1.55" fill="#fff"/>
<circle cx="112.35" cy="415.90" r="1.55" fill="#fff"/>
<circle cx="118.00" cy="359.60" r="1.55" fill="#fff"/>
<circle cx="118.00" cy="365.23" r="1.55" fill="#fff"/>
<circle cx="118.00" cy="370.86" r="1.55" fill="#fff"/>
<circle cx="118.00" cy="376.49" r="1.55" fill="#fff"/>
<circle cx="118.00" cy="382.12" r="1.55" fill="#fff"/>
<circle cx="118.00" cy="387.75" r="1.55" fill="#fff"/>
<circle cx="118.00" cy="393.38" r="1.55" fill="#fff"/>
<circle cx="118.00" cy="399.01" r="1.55" fill="#fff"/>
<circle cx="118.00" cy="404.64" r="1.55" fill="#fff"/>
<circle cx="118.00" cy="410.27" r="1.55" fill="#fff"/>
<circle cx="118.00" cy="415.90" r="1.55" fill="#fff"/>
<circle cx="123.65" cy="359.60" r="1.55" fill="#fff"/>
<circle cx="123.65" cy="365.23" r="1.55" fill="#fff"/>
<circle cx="123.65" cy="370.86" r="1.55" fill="#fff"/>
<circle cx="123.65" cy="376.49" r="1.55" fill="#fff"/>
<circle cx="123.65" cy="382.12" r="1.55" fill="#fff"/>
<circle cx="123.65" cy="387.75" r="1.55" fill="#fff"/>
<circle cx="123.65" cy="393.38" r="1.55" fill="#fff"/>
<circle cx="123.65" cy="399.01" r="1.55" fill="#fff"/>
<circle cx="123.65" cy="404.64" r="1.55" fill="#fff"/>
<circle cx="123.65" cy="410.27" r="1.55" fill="#fff"/>
<circle cx="123.65" cy="415.90" r="1.55" fill="#fff"/>
<circle cx="129.30" cy="359.60" r="1.55" fill="#fff"/>
<circle cx="129.30" cy="365.23" r="1.55" fill="#fff"/>
<circle cx="129.30" cy="370.86" r="1.55" fill="#fff"/>
<circle cx="129.30" cy="376.49" r="1.55" fill="#fff"/>
<circle cx="129.30" cy="382.12" r="1.55" fill="#fff"/>
<circle cx="129.30" cy="387.75" r="1.55" fill="#fff"/>
<circle cx="129.30" cy="393.38" r="1.55" fill="#fff"/>
<circle cx="129.30" cy="399.01" r="1.55" fill="#fff"/>
<circle cx="129.30" cy="404.64" r="1.55" fill="#fff"/>
<circle cx="129.30" cy="410.27" r="1.55" fill="#fff"/>
<circle cx="129.30" cy="415.90" r="1.55" fill="#fff"/>
<circle cx="134.95" cy="359.60" r="1.55" fill="#fff"/>
<circle cx="134.95" cy="365.23" r="1.55" fill="#fff"/>
<circle cx="134.95" cy="370.86" r="1.55" fill="#fff"/>
<circle cx="134.95" cy="376.49" r="1.55" fill="#fff"/>
<circle cx="134.95" cy="382.12" r="1.55" fill="#fff"/>
<circle cx="134.95" cy="387.75" r="1.55" fill="#fff"/>
<circle cx="134.95" cy="393.38" r="1.55" fill="#fff"/>
<circle cx="134.95" cy="399.01" r="1.55" fill="#fff"/>
<circle cx="134.95" cy="404.64" r="1.55" fill="#fff"/>
<circle cx="134.95" cy="410.27" r="1.55" fill="#fff"/>
<circle cx="134.95" cy="415.90" r="1.55" fill="#fff"/>
<circle cx="140.60" cy="359.60" r="1.55" fill="#fff"/>
<circle cx="140.60" cy="365.23" r="1.55" fill="#fff"/>
<circle cx="140.60" cy="370.86" r="1.55" fill="#fff"/>
<circle cx="140.60" cy="376.49" r="1.55" fill="#fff"/>
<circle cx="140.60" cy="382.12" r="1.55" fill="#fff"/>
<circle cx="140.60" cy="387.75" r="1.55" fill="#fff"/>
<circle cx="140.60" cy="393.38" r="1.55" fill="#fff"/>
<circle cx="140.60" cy="399.01" r="1.55" fill="#fff"/>
<circle cx="140.60" cy="404.64" r="1.55" fill="#fff"/>
<circle cx="140.60" cy="410.27" r="1.55" fill="#fff"/>
<circle cx="140.60" cy="415.90" r="1.55" fill="#fff"/>
<circle cx="146.25" cy="359.60" r="1.55" fill="#fff"/>
<circle cx="146.25" cy="365.23" r="1.55" fill="#fff"/>
<circle cx="146.25" cy="370.86" r="1.55" fill="#fff"/>
<circle cx="146.25" cy="376.49" r="1.55" fill="#fff"/>
<circle cx="146.25" cy="382.12" r="1.55" fill="#fff"/>
<circle cx="146.25" cy="387.75" r="1.55" fill="#fff"/>
<circle cx="146.25" cy="393.38" r="1.55" fill="#fff"/>
<circle cx="146.25" cy="399.01" r="1.55" fill="#fff"/>
<circle cx="146.25" cy="404.64" r="1.55" fill="#fff"/>
<circle cx="146.25" cy="410.27" r="1.55" fill="#fff"/>
<circle cx="146.25" cy="415.90" r="1.55" fill="#fff"/>
<circle cx="151.90" cy="359.60" r="1.55" fill="#fff"/>
<circle cx="151.90" cy="365.23" r="1.55" fill="#fff"/>
<circle cx="151.90" cy="370.86" r="1.55" fill="#fff"/>
<circle cx="151.90" cy="376.49" r="1.55" fill="#fff"/>
<circle cx="151.90" cy="382.12" r="1.55" fill="#fff"/>
<circle cx="151.90" cy="387.75" r="1.55" fill="#fff"/>
<circle cx="151.90" cy="393.38" r="1.55" fill="#fff"/>
<circle cx="151.90" cy="399.01" r="1.55" fill="#fff"/>
<circle cx="151.90" cy="404.64" r="1.55" fill="#fff"/>
<circle cx="151.90" cy="410.27" r="1.55" fill="#fff"/>
<circle cx="151.90" cy="415.90" r="1.55" fill="#fff"/>
<circle cx="157.55" cy="359.60" r="1.55" fill="#fff"/>
<circle cx="157.55" cy="365.23" r="1.55" fill="#fff"/>
<circle cx="157.55" cy="370.86" r="1.55" fill="#fff"/>
<circle cx="157.55" cy="376.49" r="1.55" fill="#fff"/>
<circle cx="157.55" cy="382.12" r="1.55" fill="#fff"/>
<circle cx="157.55" cy="387.75" r="1.55" fill="#fff"/>
<circle cx="157.55" cy="393.38" r="1.55" fill="#fff"/>
<circle cx="157.55" cy="399.01" r="1.55" fill="#fff"/>
<circle cx="157.55" cy="404.64" r="1.55" fill="#fff"/>
<circle cx="157.55" cy="410.27" r="1.55" fill="#fff"/>
<circle cx="157.55" cy="415.90" r="1.55" fill="#fff"/>
<circle cx="163.20" cy="359.60" r="1.55" fill="#fff"/>
<circle cx="163.20" cy="365.23" r="1.55" fill="#fff"/>
<circle cx="163.20" cy="370.86" r="1.55" fill="#fff"/>
<circle cx="163.20" cy="376.49" r="1.55" fill="#fff"/>
<circle cx="163.20" cy="382.12" r="1.55" fill="#fff"/>
<circle cx="163.20" cy="387.75" r="1.55" fill="#fff"/>
<circle cx="163.20" cy="393.38" r="1.55" fill="#fff"/>
<circle cx="163.20" cy="399.01" r="1.55" fill="#fff"/>
<circle cx="163.20" cy="404.64" r="1.55" fill="#fff"/>
<circle cx="163.20" cy="410.27" r="1.55" fill="#fff"/>
<circle cx="163.20" cy="415.90" r="1.55" fill="#fff"/>
<g shape-rendering="crispEdges">
<rect x="114.6" y="367.4" width="40.8" height="41.2" fill="#000"/>
<rect x="117" y="370" width="36" height="36" fill="#fff"/>
</g>
<circle cx="120" cy="373.4" r="2.5" fill="#000"/>
<rect x="119.8" y="379.8" width="30.9" height="15.9" rx="3" fill="#fff" stroke="#000" stroke-width="1.6"/>
<path d="M220 305 H264 L267 308 V352 L264 355 H220 L217 352 V308 Z" fill="#000"/>
<rect x="258" y="311" width="3" height="3" fill="#fff" shape-rendering="crispEdges"/>
<path d="M203 425 H259 V428 H261 V431 H263 V461 H261 V464 H259 V467 H201 V464 H199 V431 H197 V461 H199 V431 Z" fill="#000"/>
<path d="M203 425 H259 V427 H261 V430 H263 V463 H259 V467 H201 V464 H200 V461 H197 V431 H200 V428 H203 Z" fill="#000"/>
<g shape-rendering="crispEdges">
<rect x="207.5" y="425" width="1.3" height="2.6" fill="#fff"/>
<rect x="211" y="425" width="1.3" height="2.6" fill="#fff"/>
<rect x="228" y="425" width="1.3" height="2.6" fill="#fff"/>
<rect x="231" y="425" width="1.3" height="2.6" fill="#fff"/>
<rect x="242" y="425" width="1.3" height="2.6" fill="#fff"/>
<rect x="245.5" y="425" width="1.3" height="2.6" fill="#fff"/>
<rect x="248" y="425" width="1.3" height="2.6" fill="#fff"/>
<rect x="201" y="464.6" width="1.3" height="2.4" fill="#fff"/>
<rect x="217.5" y="464.6" width="1.3" height="2.4" fill="#fff"/>
<rect x="220.5" y="464.6" width="1.3" height="2.4" fill="#fff"/>
<rect x="223" y="464.6" width="1.3" height="2.4" fill="#fff"/>
<rect x="234.5" y="464.6" width="1.3" height="2.4" fill="#fff"/>
<rect x="237.3" y="464.6" width="1.3" height="2.4" fill="#fff"/>
<rect x="240" y="464.6" width="1.3" height="2.4" fill="#fff"/>
<rect x="251.3" y="464.6" width="1.3" height="2.4" fill="#fff"/>
<rect x="254" y="464.6" width="1.3" height="2.4" fill="#fff"/>
<rect x="257" y="464.6" width="1.3" height="2.4" fill="#fff"/>
<rect x="197" y="441" width="2.6" height="1.3" fill="#fff"/>
<rect x="197" y="444" width="2.6" height="1.3" fill="#fff"/>
<rect x="197" y="447.2" width="2.6" height="1.3" fill="#fff"/>
<rect x="197" y="457.3" width="2.6" height="1.3" fill="#fff"/>
<rect x="197" y="460.3" width="2.6" height="1.3" fill="#fff"/>
<rect x="260.4" y="434.8" width="2.6" height="1.3" fill="#fff"/>
<rect x="260.4" y="437.6" width="2.6" height="1.3" fill="#fff"/>
<rect x="260.4" y="441" width="2.6" height="1.3" fill="#fff"/>
<rect x="260.4" y="452" width="2.6" height="1.3" fill="#fff"/>
<rect x="260.4" y="455.2" width="2.6" height="1.3" fill="#fff"/>
<rect x="260.4" y="458" width="2.6" height="1.3" fill="#fff"/>
</g>
<circle cx="206.4" cy="457.5" r="2.6" fill="#fff"/>
<g shape-rendering="crispEdges">
<rect x="311" y="351" width="226" height="19" fill="#000"/>
<rect x="312" y="352" width="224" height="17" fill="#fff"/>
<rect x="312" y="358" width="6.5" height="1" fill="#000"/>
<rect x="312" y="365" width="6.5" height="1" fill="#000"/>
<rect x="318.5" y="351" width="3.5" height="17" fill="#000"/>
<rect x="319" y="367" width="3.6" height="1" fill="#000"/>
<rect x="322" y="356.5" width="1" height="10.5" fill="#000"/>
<rect x="322" y="366" width="10" height="1" fill="#000"/>
<rect x="331" y="357.5" width="1" height="9.5" fill="#000"/>
<rect x="329.4" y="357.5" width="2.6" height="1" fill="#000"/>
<rect x="329.4" y="352" width="1" height="6" fill="#000"/>
<rect x="322" y="356.5" width="3" height="1" fill="#000"/>
<rect x="324" y="356.5" width="1" height="3" fill="#000"/>
<rect x="324" y="358.5" width="6.4" height="1" fill="#000"/>
<rect x="528.9" y="358" width="6.5" height="1" fill="#000"/>
<rect x="528.9" y="365" width="6.5" height="1" fill="#000"/>
<rect x="525.4" y="351" width="3.5" height="17" fill="#000"/>
<rect x="524.8" y="367" width="3.6" height="1" fill="#000"/>
<rect x="524.4" y="356.5" width="1" height="10.5" fill="#000"/>
<rect x="515.4" y="366" width="10" height="1" fill="#000"/>
<rect x="515.4" y="357.5" width="1" height="9.5" fill="#000"/>
<rect x="515.4" y="357.5" width="2.6" height="1" fill="#000"/>
<rect x="517" y="352" width="1" height="6" fill="#000"/>
<rect x="522.4" y="356.5" width="3" height="1" fill="#000"/>
<rect x="522.4" y="356.5" width="1" height="3" fill="#000"/>
<rect x="517" y="358.5" width="6.4" height="1" fill="#000"/>
<rect x="337" y="354" width="173" height="6.5" fill="#000"/>
<rect x="336" y="360" width="175" height="7" fill="#000"/>
<rect x="339" y="361.2" width="4" height="4.8" fill="#fff"/>
<rect x="341" y="355.2" width="1" height="3.8" fill="#fff"/>
<rect x="344.9" y="361.2" width="4" height="4.8" fill="#fff"/>
<rect x="346.9" y="355.2" width="1" height="3.8" fill="#fff"/>
<rect x="350.8" y="361.2" width="4" height="4.8" fill="#fff"/>
<rect x="352.8" y="355.2" width="1" height="3.8" fill="#fff"/>
<rect x="356.7" y="361.2" width="4" height="4.8" fill="#fff"/>
<rect x="358.7" y="355.2" width="1" height="3.8" fill="#fff"/>
<rect x="362.6" y="361.2" width="4" height="4.8" fill="#fff"/>
<rect x="364.6" y="355.2" width="1" height="3.8" fill="#fff"/>
<rect x="368.5" y="361.2" width="4" height="4.8" fill="#fff"/>
<rect x="370.5" y="355.2" width="1" height="3.8" fill="#fff"/>
<rect x="374.4" y="361.2" width="4" height="4.8" fill="#fff"/>
<rect x="376.4" y="355.2" width="1" height="3.8" fill="#fff"/>
<rect x="380.3" y="361.2" width="4" height="4.8" fill="#fff"/>
<rect x="382.3" y="355.2" width="1" height="3.8" fill="#fff"/>
<rect x="386.2" y="361.2" width="4" height="4.8" fill="#fff"/>
<rect x="388.2" y="355.2" width="1" height="3.8" fill="#fff"/>
<rect x="392.1" y="361.2" width="4" height="4.8" fill="#fff"/>
<rect x="394.1" y="355.2" width="1" height="3.8" fill="#fff"/>
<rect x="398" y="361.2" width="4" height="4.8" fill="#fff"/>
<rect x="400" y="355.2" width="1" height="3.8" fill="#fff"/>
<rect x="403.9" y="361.2" width="4" height="4.8" fill="#fff"/>
<rect x="405.9" y="355.2" width="1" height="3.8" fill="#fff"/>
<rect x="409.8" y="361.2" width="4" height="4.8" fill="#fff"/>
<rect x="411.8" y="355.2" width="1" height="3.8" fill="#fff"/>
<rect x="415.7" y="361.2" width="4" height="4.8" fill="#fff"/>
<rect x="417.7" y="355.2" width="1" height="3.8" fill="#fff"/>
<rect x="421.6" y="361.2" width="4" height="4.8" fill="#fff"/>
<rect x="423.6" y="355.2" width="1" height="3.8" fill="#fff"/>
<rect x="427.5" y="361.2" width="4" height="4.8" fill="#fff"/>
<rect x="429.5" y="355.2" width="1" height="3.8" fill="#fff"/>
<rect x="433.4" y="361.2" width="4" height="4.8" fill="#fff"/>
<rect x="435.4" y="355.2" width="1" height="3.8" fill="#fff"/>
<rect x="439.3" y="361.2" width="4" height="4.8" fill="#fff"/>
<rect x="441.3" y="355.2" width="1" height="3.8" fill="#fff"/>
<rect x="445.2" y="361.2" width="4" height="4.8" fill="#fff"/>
<rect x="447.2" y="355.2" width="1" height="3.8" fill="#fff"/>
<rect x="451.1" y="361.2" width="4" height="4.8" fill="#fff"/>
<rect x="453.1" y="355.2" width="1" height="3.8" fill="#fff"/>
<rect x="457" y="361.2" width="4" height="4.8" fill="#fff"/>
<rect x="459" y="355.2" width="1" height="3.8" fill="#fff"/>
<rect x="462.9" y="361.2" width="4" height="4.8" fill="#fff"/>
<rect x="464.9" y="355.2" width="1" height="3.8" fill="#fff"/>
<rect x="468.8" y="361.2" width="4" height="4.8" fill="#fff"/>
<rect x="470.8" y="355.2" width="1" height="3.8" fill="#fff"/>
<rect x="474.7" y="361.2" width="4" height="4.8" fill="#fff"/>
<rect x="476.7" y="355.2" width="1" height="3.8" fill="#fff"/>
<rect x="480.6" y="361.2" width="4" height="4.8" fill="#fff"/>
<rect x="482.6" y="355.2" width="1" height="3.8" fill="#fff"/>
<rect x="486.5" y="361.2" width="4" height="4.8" fill="#fff"/>
<rect x="488.5" y="355.2" width="1" height="3.8" fill="#fff"/>
<rect x="492.4" y="361.2" width="4" height="4.8" fill="#fff"/>
<rect x="494.4" y="355.2" width="1" height="3.8" fill="#fff"/>
<rect x="498.3" y="361.2" width="4" height="4.8" fill="#fff"/>
<rect x="500.3" y="355.2" width="1" height="3.8" fill="#fff"/>
<rect x="504.2" y="361.2" width="4" height="4.8" fill="#fff"/>
<rect x="506.2" y="355.2" width="1" height="3.8" fill="#fff"/>
<rect x="336.8" y="367" width="1.9" height="0.8" fill="#000"/>
<rect x="339.75" y="367" width="1.9" height="0.8" fill="#000"/>
<rect x="342.7" y="367" width="1.9" height="0.8" fill="#000"/>
<rect x="345.65" y="367" width="1.9" height="0.8" fill="#000"/>
<rect x="348.6" y="367" width="1.9" height="0.8" fill="#000"/>
<rect x="351.55" y="367" width="1.9" height="0.8" fill="#000"/>
<rect x="354.5" y="367" width="1.9" height="0.8" fill="#000"/>
<rect x="357.45" y="367" width="1.9" height="0.8" fill="#000"/>
<rect x="360.4" y="367" width="1.9" height="0.8" fill="#000"/>
<rect x="363.35" y="367" width="1.9" height="0.8" fill="#000"/>
<rect x="366.3" y="367" width="1.9" height="0.8" fill="#000"/>
<rect x="369.25" y="367" width="1.9" height="0.8" fill="#000"/>
<rect x="372.2" y="367" width="1.9" height="0.8" fill="#000"/>
<rect x="375.15" y="367" width="1.9" height="0.8" fill="#000"/>
<rect x="378.1" y="367" width="1.9" height="0.8" fill="#000"/>
<rect x="381.05" y="367" width="1.9" height="0.8" fill="#000"/>
<rect x="384" y="367" width="1.9" height="0.8" fill="#000"/>
<rect x="386.95" y="367" width="1.9" height="0.8" fill="#000"/>
<rect x="389.9" y="367" width="1.9" height="0.8" fill="#000"/>
<rect x="392.85" y="367" width="1.9" height="0.8" fill="#000"/>
<rect x="395.8" y="367" width="1.9" height="0.8" fill="#000"/>
<rect x="398.75" y="367" width="1.9" height="0.8" fill="#000"/>
<rect x="401.7" y="367" width="1.9" height="0.8" fill="#000"/>
<rect x="404.65" y="367" width="1.9" height="0.8" fill="#000"/>
<rect x="407.6" y="367" width="1.9" height="0.8" fill="#000"/>
<rect x="410.55" y="367" width="1.9" height="0.8" fill="#000"/>
<rect x="413.5" y="367" width="1.9" height="0.8" fill="#000"/>
<rect x="416.45" y="367" width="1.9" height="0.8" fill="#000"/>
<rect x="419.4" y="367" width="1.9" height="0.8" fill="#000"/>
<rect x="422.35" y="367" width="1.9" height="0.8" fill="#000"/>
<rect x="425.3" y="367" width="1.9" height="0.8" fill="#000"/>
<rect x="428.25" y="367" width="1.9" height="0.8" fill="#000"/>
<rect x="431.2" y="367" width="1.9" height="0.8" fill="#000"/>
<rect x="434.15" y="367" width="1.9" height="0.8" fill="#000"/>
<rect x="437.1" y="367" width="1.9" height="0.8" fill="#000"/>
<rect x="440.05" y="367" width="1.9" height="0.8" fill="#000"/>
<rect x="443" y="367" width="1.9" height="0.8" fill="#000"/>
<rect x="445.95" y="367" width="1.9" height="0.8" fill="#000"/>
<rect x="448.9" y="367" width="1.9" height="0.8" fill="#000"/>
<rect x="451.85" y="367" width="1.9" height="0.8" fill="#000"/>
<rect x="454.8" y="367" width="1.9" height="0.8" fill="#000"/>
<rect x="457.75" y="367" width="1.9" height="0.8" fill="#000"/>
<rect x="460.7" y="367" width="1.9" height="0.8" fill="#000"/>
<rect x="463.65" y="367" width="1.9" height="0.8" fill="#000"/>
<rect x="466.6" y="367" width="1.9" height="0.8" fill="#000"/>
<rect x="469.55" y="367" width="1.9" height="0.8" fill="#000"/>
<rect x="472.5" y="367" width="1.9" height="0.8" fill="#000"/>
<rect x="475.45" y="367" width="1.9" height="0.8" fill="#000"/>
<rect x="478.4" y="367" width="1.9" height="0.8" fill="#000"/>
<rect x="481.35" y="367" width="1.9" height="0.8" fill="#000"/>
<rect x="484.3" y="367" width="1.9" height="0.8" fill="#000"/>
<rect x="487.25" y="367" width="1.9" height="0.8" fill="#000"/>
<rect x="490.2" y="367" width="1.9" height="0.8" fill="#000"/>
<rect x="493.15" y="367" width="1.9" height="0.8" fill="#000"/>
<rect x="496.1" y="367" width="1.9" height="0.8" fill="#000"/>
<rect x="499.05" y="367" width="1.9" height="0.8" fill="#000"/>
<rect x="502" y="367" width="1.9" height="0.8" fill="#000"/>
<rect x="504.95" y="367" width="1.9" height="0.8" fill="#000"/>
<rect x="507.9" y="367" width="1.9" height="0.8" fill="#000"/>
<rect x="311" y="371" width="226" height="19" fill="#000"/>
<rect x="312" y="372" width="224" height="17" fill="#fff"/>
<rect x="312" y="378" width="6.5" height="1" fill="#000"/>
<rect x="312" y="385" width="6.5" height="1" fill="#000"/>
<rect x="318.5" y="371" width="3.5" height="17" fill="#000"/>
<rect x="319" y="387" width="3.6" height="1" fill="#000"/>
<rect x="322" y="376.5" width="1" height="10.5" fill="#000"/>
<rect x="322" y="386" width="10" height="1" fill="#000"/>
<rect x="331" y="377.5" width="1" height="9.5" fill="#000"/>
<rect x="329.4" y="377.5" width="2.6" height="1" fill="#000"/>
<rect x="329.4" y="372" width="1" height="6" fill="#000"/>
<rect x="322" y="376.5" width="3" height="1" fill="#000"/>
<rect x="324" y="376.5" width="1" height="3" fill="#000"/>
<rect x="324" y="378.5" width="6.4" height="1" fill="#000"/>
<rect x="528.9" y="378" width="6.5" height="1" fill="#000"/>
<rect x="528.9" y="385" width="6.5" height="1" fill="#000"/>
<rect x="525.4" y="371" width="3.5" height="17" fill="#000"/>
<rect x="524.8" y="387" width="3.6" height="1" fill="#000"/>
<rect x="524.4" y="376.5" width="1" height="10.5" fill="#000"/>
<rect x="515.4" y="386" width="10" height="1" fill="#000"/>
<rect x="515.4" y="377.5" width="1" height="9.5" fill="#000"/>
<rect x="515.4" y="377.5" width="2.6" height="1" fill="#000"/>
<rect x="517" y="372" width="1" height="6" fill="#000"/>
<rect x="522.4" y="376.5" width="3" height="1" fill="#000"/>
<rect x="522.4" y="376.5" width="1" height="3" fill="#000"/>
<rect x="517" y="378.5" width="6.4" height="1" fill="#000"/>
<rect x="337" y="374" width="173" height="6.5" fill="#000"/>
<rect x="336" y="380" width="175" height="7" fill="#000"/>
<rect x="339" y="381.2" width="4" height="4.8" fill="#fff"/>
<rect x="341" y="375.2" width="1" height="3.8" fill="#fff"/>
<rect x="344.9" y="381.2" width="4" height="4.8" fill="#fff"/>
<rect x="346.9" y="375.2" width="1" height="3.8" fill="#fff"/>
<rect x="350.8" y="381.2" width="4" height="4.8" fill="#fff"/>
<rect x="352.8" y="375.2" width="1" height="3.8" fill="#fff"/>
<rect x="356.7" y="381.2" width="4" height="4.8" fill="#fff"/>
<rect x="358.7" y="375.2" width="1" height="3.8" fill="#fff"/>
<rect x="362.6" y="381.2" width="4" height="4.8" fill="#fff"/>
<rect x="364.6" y="375.2" width="1" height="3.8" fill="#fff"/>
<rect x="368.5" y="381.2" width="4" height="4.8" fill="#fff"/>
<rect x="370.5" y="375.2" width="1" height="3.8" fill="#fff"/>
<rect x="374.4" y="381.2" width="4" height="4.8" fill="#fff"/>
<rect x="376.4" y="375.2" width="1" height="3.8" fill="#fff"/>
<rect x="380.3" y="381.2" width="4" height="4.8" fill="#fff"/>
<rect x="382.3" y="375.2" width="1" height="3.8" fill="#fff"/>
<rect x="386.2" y="381.2" width="4" height="4.8" fill="#fff"/>
<rect x="388.2" y="375.2" width="1" height="3.8" fill="#fff"/>
<rect x="392.1" y="381.2" width="4" height="4.8" fill="#fff"/>
<rect x="394.1" y="375.2" width="1" height="3.8" fill="#fff"/>
<rect x="398" y="381.2" width="4" height="4.8" fill="#fff"/>
<rect x="400" y="375.2" width="1" height="3.8" fill="#fff"/>
<rect x="403.9" y="381.2" width="4" height="4.8" fill="#fff"/>
<rect x="405.9" y="375.2" width="1" height="3.8" fill="#fff"/>
<rect x="409.8" y="381.2" width="4" height="4.8" fill="#fff"/>
<rect x="411.8" y="375.2" width="1" height="3.8" fill="#fff"/>
<rect x="415.7" y="381.2" width="4" height="4.8" fill="#fff"/>
<rect x="417.7" y="375.2" width="1" height="3.8" fill="#fff"/>
<rect x="421.6" y="381.2" width="4" height="4.8" fill="#fff"/>
<rect x="423.6" y="375.2" width="1" height="3.8" fill="#fff"/>
<rect x="427.5" y="381.2" width="4" height="4.8" fill="#fff"/>
<rect x="429.5" y="375.2" width="1" height="3.8" fill="#fff"/>
<rect x="433.4" y="381.2" width="4" height="4.8" fill="#fff"/>
<rect x="435.4" y="375.2" width="1" height="3.8" fill="#fff"/>
<rect x="439.3" y="381.2" width="4" height="4.8" fill="#fff"/>
<rect x="441.3" y="375.2" width="1" height="3.8" fill="#fff"/>
<rect x="445.2" y="381.2" width="4" height="4.8" fill="#fff"/>
<rect x="447.2" y="375.2" width="1" height="3.8" fill="#fff"/>
<rect x="451.1" y="381.2" width="4" height="4.8" fill="#fff"/>
<rect x="453.1" y="375.2" width="1" height="3.8" fill="#fff"/>
<rect x="457" y="381.2" width="4" height="4.8" fill="#fff"/>
<rect x="459" y="375.2" width="1" height="3.8" fill="#fff"/>
<rect x="462.9" y="381.2" width="4" height="4.8" fill="#fff"/>
<rect x="464.9" y="375.2" width="1" height="3.8" fill="#fff"/>
<rect x="468.8" y="381.2" width="4" height="4.8" fill="#fff"/>
<rect x="470.8" y="375.2" width="1" height="3.8" fill="#fff"/>
<rect x="474.7" y="381.2" width="4" height="4.8" fill="#fff"/>
<rect x="476.7" y="375.2" width="1" height="3.8" fill="#fff"/>
<rect x="480.6" y="381.2" width="4" height="4.8" fill="#fff"/>
<rect x="482.6" y="375.2" width="1" height="3.8" fill="#fff"/>
<rect x="486.5" y="381.2" width="4" height="4.8" fill="#fff"/>
<rect x="488.5" y="375.2" width="1" height="3.8" fill="#fff"/>
<rect x="492.4" y="381.2" width="4" height="4.8" fill="#fff"/>
<rect x="494.4" y="375.2" width="1" height="3.8" fill="#fff"/>
<rect x="498.3" y="381.2" width="4" height="4.8" fill="#fff"/>
<rect x="500.3" y="375.2" width="1" height="3.8" fill="#fff"/>
<rect x="504.2" y="381.2" width="4" height="4.8" fill="#fff"/>
<rect x="506.2" y="375.2" width="1" height="3.8" fill="#fff"/>
<rect x="336.8" y="387" width="1.9" height="0.8" fill="#000"/>
<rect x="339.75" y="387" width="1.9" height="0.8" fill="#000"/>
<rect x="342.7" y="387" width="1.9" height="0.8" fill="#000"/>
<rect x="345.65" y="387" width="1.9" height="0.8" fill="#000"/>
<rect x="348.6" y="387" width="1.9" height="0.8" fill="#000"/>
<rect x="351.55" y="387" width="1.9" height="0.8" fill="#000"/>
<rect x="354.5" y="387" width="1.9" height="0.8" fill="#000"/>
<rect x="357.45" y="387" width="1.9" height="0.8" fill="#000"/>
<rect x="360.4" y="387" width="1.9" height="0.8" fill="#000"/>
<rect x="363.35" y="387" width="1.9" height="0.8" fill="#000"/>
<rect x="366.3" y="387" width="1.9" height="0.8" fill="#000"/>
<rect x="369.25" y="387" width="1.9" height="0.8" fill="#000"/>
<rect x="372.2" y="387" width="1.9" height="0.8" fill="#000"/>
<rect x="375.15" y="387" width="1.9" height="0.8" fill="#000"/>
<rect x="378.1" y="387" width="1.9" height="0.8" fill="#000"/>
<rect x="381.05" y="387" width="1.9" height="0.8" fill="#000"/>
<rect x="384" y="387" width="1.9" height="0.8" fill="#000"/>
<rect x="386.95" y="387" width="1.9" height="0.8" fill="#000"/>
<rect x="389.9" y="387" width="1.9" height="0.8" fill="#000"/>
<rect x="392.85" y="387" width="1.9" height="0.8" fill="#000"/>
<rect x="395.8" y="387" width="1.9" height="0.8" fill="#000"/>
<rect x="398.75" y="387" width="1.9" height="0.8" fill="#000"/>
<rect x="401.7" y="387" width="1.9" height="0.8" fill="#000"/>
<rect x="404.65" y="387" width="1.9" height="0.8" fill="#000"/>
<rect x="407.6" y="387" width="1.9" height="0.8" fill="#000"/>
<rect x="410.55" y="387" width="1.9" height="0.8" fill="#000"/>
<rect x="413.5" y="387" width="1.9" height="0.8" fill="#000"/>
<rect x="416.45" y="387" width="1.9" height="0.8" fill="#000"/>
<rect x="419.4" y="387" width="1.9" height="0.8" fill="#000"/>
<rect x="422.35" y="387" width="1.9" height="0.8" fill="#000"/>
<rect x="425.3" y="387" width="1.9" height="0.8" fill="#000"/>
<rect x="428.25" y="387" width="1.9" height="0.8" fill="#000"/>
<rect x="431.2" y="387" width="1.9" height="0.8" fill="#000"/>
<rect x="434.15" y="387" width="1.9" height="0.8" fill="#000"/>
<rect x="437.1" y="387" width="1.9" height="0.8" fill="#000"/>
<rect x="440.05" y="387" width="1.9" height="0.8" fill="#000"/>
<rect x="443" y="387" width="1.9" height="0.8" fill="#000"/>
<rect x="445.95" y="387" width="1.9" height="0.8" fill="#000"/>
<rect x="448.9" y="387" width="1.9" height="0.8" fill="#000"/>
<rect x="451.85" y="387" width="1.9" height="0.8" fill="#000"/>
<rect x="454.8" y="387" width="1.9" height="0.8" fill="#000"/>
<rect x="457.75" y="387" width="1.9" height="0.8" fill="#000"/>
<rect x="460.7" y="387" width="1.9" height="0.8" fill="#000"/>
<rect x="463.65" y="387" width="1.9" height="0.8" fill="#000"/>
<rect x="466.6" y="387" width="1.9" height="0.8" fill="#000"/>
<rect x="469.55" y="387" width="1.9" height="0.8" fill="#000"/>
<rect x="472.5" y="387" width="1.9" height="0.8" fill="#000"/>
<rect x="475.45" y="387" width="1.9" height="0.8" fill="#000"/>
<rect x="478.4" y="387" width="1.9" height="0.8" fill="#000"/>
<rect x="481.35" y="387" width="1.9" height="0.8" fill="#000"/>
<rect x="484.3" y="387" width="1.9" height="0.8" fill="#000"/>
<rect x="487.25" y="387" width="1.9" height="0.8" fill="#000"/>
<rect x="490.2" y="387" width="1.9" height="0.8" fill="#000"/>
<rect x="493.15" y="387" width="1.9" height="0.8" fill="#000"/>
<rect x="496.1" y="387" width="1.9" height="0.8" fill="#000"/>
<rect x="499.05" y="387" width="1.9" height="0.8" fill="#000"/>
<rect x="502" y="387" width="1.9" height="0.8" fill="#000"/>
<rect x="504.95" y="387" width="1.9" height="0.8" fill="#000"/>
<rect x="507.9" y="387" width="1.9" height="0.8" fill="#000"/>
<rect x="311" y="391" width="226" height="19" fill="#000"/>
<rect x="312" y="392" width="224" height="17" fill="#fff"/>
<rect x="312" y="398" width="6.5" height="1" fill="#000"/>
<rect x="312" y="405" width="6.5" height="1" fill="#000"/>
<rect x="318.5" y="391" width="3.5" height="17" fill="#000"/>
<rect x="319" y="407" width="3.6" height="1" fill="#000"/>
<rect x="322" y="396.5" width="1" height="10.5" fill="#000"/>
<rect x="322" y="406" width="10" height="1" fill="#000"/>
<rect x="331" y="397.5" width="1" height="9.5" fill="#000"/>
<rect x="329.4" y="397.5" width="2.6" height="1" fill="#000"/>
<rect x="329.4" y="392" width="1" height="6" fill="#000"/>
<rect x="322" y="396.5" width="3" height="1" fill="#000"/>
<rect x="324" y="396.5" width="1" height="3" fill="#000"/>
<rect x="324" y="398.5" width="6.4" height="1" fill="#000"/>
<rect x="528.9" y="398" width="6.5" height="1" fill="#000"/>
<rect x="528.9" y="405" width="6.5" height="1" fill="#000"/>
<rect x="525.4" y="391" width="3.5" height="17" fill="#000"/>
<rect x="524.8" y="407" width="3.6" height="1" fill="#000"/>
<rect x="524.4" y="396.5" width="1" height="10.5" fill="#000"/>
<rect x="515.4" y="406" width="10" height="1" fill="#000"/>
<rect x="515.4" y="397.5" width="1" height="9.5" fill="#000"/>
<rect x="515.4" y="397.5" width="2.6" height="1" fill="#000"/>
<rect x="517" y="392" width="1" height="6" fill="#000"/>
<rect x="522.4" y="396.5" width="3" height="1" fill="#000"/>
<rect x="522.4" y="396.5" width="1" height="3" fill="#000"/>
<rect x="517" y="398.5" width="6.4" height="1" fill="#000"/>
<rect x="337" y="394" width="173" height="6.5" fill="#000"/>
<rect x="336" y="400" width="175" height="7" fill="#000"/>
<rect x="339" y="401.2" width="4" height="4.8" fill="#fff"/>
<rect x="341" y="395.2" width="1" height="3.8" fill="#fff"/>
<rect x="344.9" y="401.2" width="4" height="4.8" fill="#fff"/>
<rect x="346.9" y="395.2" width="1" height="3.8" fill="#fff"/>
<rect x="350.8" y="401.2" width="4" height="4.8" fill="#fff"/>
<rect x="352.8" y="395.2" width="1" height="3.8" fill="#fff"/>
<rect x="356.7" y="401.2" width="4" height="4.8" fill="#fff"/>
<rect x="358.7" y="395.2" width="1" height="3.8" fill="#fff"/>
<rect x="362.6" y="401.2" width="4" height="4.8" fill="#fff"/>
<rect x="364.6" y="395.2" width="1" height="3.8" fill="#fff"/>
<rect x="368.5" y="401.2" width="4" height="4.8" fill="#fff"/>
<rect x="370.5" y="395.2" width="1" height="3.8" fill="#fff"/>
<rect x="374.4" y="401.2" width="4" height="4.8" fill="#fff"/>
<rect x="376.4" y="395.2" width="1" height="3.8" fill="#fff"/>
<rect x="380.3" y="401.2" width="4" height="4.8" fill="#fff"/>
<rect x="382.3" y="395.2" width="1" height="3.8" fill="#fff"/>
<rect x="386.2" y="401.2" width="4" height="4.8" fill="#fff"/>
<rect x="388.2" y="395.2" width="1" height="3.8" fill="#fff"/>
<rect x="392.1" y="401.2" width="4" height="4.8" fill="#fff"/>
<rect x="394.1" y="395.2" width="1" height="3.8" fill="#fff"/>
<rect x="398" y="401.2" width="4" height="4.8" fill="#fff"/>
<rect x="400" y="395.2" width="1" height="3.8" fill="#fff"/>
<rect x="403.9" y="401.2" width="4" height="4.8" fill="#fff"/>
<rect x="405.9" y="395.2" width="1" height="3.8" fill="#fff"/>
<rect x="409.8" y="401.2" width="4" height="4.8" fill="#fff"/>
<rect x="411.8" y="395.2" width="1" height="3.8" fill="#fff"/>
<rect x="415.7" y="401.2" width="4" height="4.8" fill="#fff"/>
<rect x="417.7" y="395.2" width="1" height="3.8" fill="#fff"/>
<rect x="421.6" y="401.2" width="4" height="4.8" fill="#fff"/>
<rect x="423.6" y="395.2" width="1" height="3.8" fill="#fff"/>
<rect x="427.5" y="401.2" width="4" height="4.8" fill="#fff"/>
<rect x="429.5" y="395.2" width="1" height="3.8" fill="#fff"/>
<rect x="433.4" y="401.2" width="4" height="4.8" fill="#fff"/>
<rect x="435.4" y="395.2" width="1" height="3.8" fill="#fff"/>
<rect x="439.3" y="401.2" width="4" height="4.8" fill="#fff"/>
<rect x="441.3" y="395.2" width="1" height="3.8" fill="#fff"/>
<rect x="445.2" y="401.2" width="4" height="4.8" fill="#fff"/>
<rect x="447.2" y="395.2" width="1" height="3.8" fill="#fff"/>
<rect x="451.1" y="401.2" width="4" height="4.8" fill="#fff"/>
<rect x="453.1" y="395.2" width="1" height="3.8" fill="#fff"/>
<rect x="457" y="401.2" width="4" height="4.8" fill="#fff"/>
<rect x="459" y="395.2" width="1" height="3.8" fill="#fff"/>
<rect x="462.9" y="401.2" width="4" height="4.8" fill="#fff"/>
<rect x="464.9" y="395.2" width="1" height="3.8" fill="#fff"/>
<rect x="468.8" y="401.2" width="4" height="4.8" fill="#fff"/>
<rect x="470.8" y="395.2" width="1" height="3.8" fill="#fff"/>
<rect x="474.7" y="401.2" width="4" height="4.8" fill="#fff"/>
<rect x="476.7" y="395.2" width="1" height="3.8" fill="#fff"/>
<rect x="480.6" y="401.2" width="4" height="4.8" fill="#fff"/>
<rect x="482.6" y="395.2" width="1" height="3.8" fill="#fff"/>
<rect x="486.5" y="401.2" width="4" height="4.8" fill="#fff"/>
<rect x="488.5" y="395.2" width="1" height="3.8" fill="#fff"/>
<rect x="492.4" y="401.2" width="4" height="4.8" fill="#fff"/>
<rect x="494.4" y="395.2" width="1" height="3.8" fill="#fff"/>
<rect x="498.3" y="401.2" width="4" height="4.8" fill="#fff"/>
<rect x="500.3" y="395.2" width="1" height="3.8" fill="#fff"/>
<rect x="504.2" y="401.2" width="4" height="4.8" fill="#fff"/>
<rect x="506.2" y="395.2" width="1" height="3.8" fill="#fff"/>
<rect x="336.8" y="407" width="1.9" height="0.8" fill="#000"/>
<rect x="339.75" y="407" width="1.9" height="0.8" fill="#000"/>
<rect x="342.7" y="407" width="1.9" height="0.8" fill="#000"/>
<rect x="345.65" y="407" width="1.9" height="0.8" fill="#000"/>
<rect x="348.6" y="407" width="1.9" height="0.8" fill="#000"/>
<rect x="351.55" y="407" width="1.9" height="0.8" fill="#000"/>
<rect x="354.5" y="407" width="1.9" height="0.8" fill="#000"/>
<rect x="357.45" y="407" width="1.9" height="0.8" fill="#000"/>
<rect x="360.4" y="407" width="1.9" height="0.8" fill="#000"/>
<rect x="363.35" y="407" width="1.9" height="0.8" fill="#000"/>
<rect x="366.3" y="407" width="1.9" height="0.8" fill="#000"/>
<rect x="369.25" y="407" width="1.9" height="0.8" fill="#000"/>
<rect x="372.2" y="407" width="1.9" height="0.8" fill="#000"/>
<rect x="375.15" y="407" width="1.9" height="0.8" fill="#000"/>
<rect x="378.1" y="407" width="1.9" height="0.8" fill="#000"/>
<rect x="381.05" y="407" width="1.9" height="0.8" fill="#000"/>
<rect x="384" y="407" width="1.9" height="0.8" fill="#000"/>
<rect x="386.95" y="407" width="1.9" height="0.8" fill="#000"/>
<rect x="389.9" y="407" width="1.9" height="0.8" fill="#000"/>
<rect x="392.85" y="407" width="1.9" height="0.8" fill="#000"/>
<rect x="395.8" y="407" width="1.9" height="0.8" fill="#000"/>
<rect x="398.75" y="407" width="1.9" height="0.8" fill="#000"/>
<rect x="401.7" y="407" width="1.9" height="0.8" fill="#000"/>
<rect x="404.65" y="407" width="1.9" height="0.8" fill="#000"/>
<rect x="407.6" y="407" width="1.9" height="0.8" fill="#000"/>
<rect x="410.55" y="407" width="1.9" height="0.8" fill="#000"/>
<rect x="413.5" y="407" width="1.9" height="0.8" fill="#000"/>
<rect x="416.45" y="407" width="1.9" height="0.8" fill="#000"/>
<rect x="419.4" y="407" width="1.9" height="0.8" fill="#000"/>
<rect x="422.35" y="407" width="1.9" height="0.8" fill="#000"/>
<rect x="425.3" y="407" width="1.9" height="0.8" fill="#000"/>
<rect x="428.25" y="407" width="1.9" height="0.8" fill="#000"/>
<rect x="431.2" y="407" width="1.9" height="0.8" fill="#000"/>
<rect x="434.15" y="407" width="1.9" height="0.8" fill="#000"/>
<rect x="437.1" y="407" width="1.9" height="0.8" fill="#000"/>
<rect x="440.05" y="407" width="1.9" height="0.8" fill="#000"/>
<rect x="443" y="407" width="1.9" height="0.8" fill="#000"/>
<rect x="445.95" y="407" width="1.9" height="0.8" fill="#000"/>
<rect x="448.9" y="407" width="1.9" height="0.8" fill="#000"/>
<rect x="451.85" y="407" width="1.9" height="0.8" fill="#000"/>
<rect x="454.8" y="407" width="1.9" height="0.8" fill="#000"/>
<rect x="457.75" y="407" width="1.9" height="0.8" fill="#000"/>
<rect x="460.7" y="407" width="1.9" height="0.8" fill="#000"/>
<rect x="463.65" y="407" width="1.9" height="0.8" fill="#000"/>
<rect x="466.6" y="407" width="1.9" height="0.8" fill="#000"/>
<rect x="469.55" y="407" width="1.9" height="0.8" fill="#000"/>
<rect x="472.5" y="407" width="1.9" height="0.8" fill="#000"/>
<rect x="475.45" y="407" width="1.9" height="0.8" fill="#000"/>
<rect x="478.4" y="407" width="1.9" height="0.8" fill="#000"/>
<rect x="481.35" y="407" width="1.9" height="0.8" fill="#000"/>
<rect x="484.3" y="407" width="1.9" height="0.8" fill="#000"/>
<rect x="487.25" y="407" width="1.9" height="0.8" fill="#000"/>
<rect x="490.2" y="407" width="1.9" height="0.8" fill="#000"/>
<rect x="493.15" y="407" width="1.9" height="0.8" fill="#000"/>
<rect x="496.1" y="407" width="1.9" height="0.8" fill="#000"/>
<rect x="499.05" y="407" width="1.9" height="0.8" fill="#000"/>
<rect x="502" y="407" width="1.9" height="0.8" fill="#000"/>
<rect x="504.95" y="407" width="1.9" height="0.8" fill="#000"/>
<rect x="507.9" y="407" width="1.9" height="0.8" fill="#000"/>
<rect x="311" y="411" width="226" height="19" fill="#000"/>
<rect x="312" y="412" width="224" height="17" fill="#fff"/>
<rect x="312" y="418" width="6.5" height="1" fill="#000"/>
<rect x="312" y="425" width="6.5" height="1" fill="#000"/>
<rect x="318.5" y="411" width="3.5" height="17" fill="#000"/>
<rect x="319" y="427" width="3.6" height="1" fill="#000"/>
<rect x="322" y="416.5" width="1" height="10.5" fill="#000"/>
<rect x="322" y="426" width="10" height="1" fill="#000"/>
<rect x="331" y="417.5" width="1" height="9.5" fill="#000"/>
<rect x="329.4" y="417.5" width="2.6" height="1" fill="#000"/>
<rect x="329.4" y="412" width="1" height="6" fill="#000"/>
<rect x="322" y="416.5" width="3" height="1" fill="#000"/>
<rect x="324" y="416.5" width="1" height="3" fill="#000"/>
<rect x="324" y="418.5" width="6.4" height="1" fill="#000"/>
<rect x="528.9" y="418" width="6.5" height="1" fill="#000"/>
<rect x="528.9" y="425" width="6.5" height="1" fill="#000"/>
<rect x="525.4" y="411" width="3.5" height="17" fill="#000"/>
<rect x="524.8" y="427" width="3.6" height="1" fill="#000"/>
<rect x="524.4" y="416.5" width="1" height="10.5" fill="#000"/>
<rect x="515.4" y="426" width="10" height="1" fill="#000"/>
<rect x="515.4" y="417.5" width="1" height="9.5" fill="#000"/>
<rect x="515.4" y="417.5" width="2.6" height="1" fill="#000"/>
<rect x="517" y="412" width="1" height="6" fill="#000"/>
<rect x="522.4" y="416.5" width="3" height="1" fill="#000"/>
<rect x="522.4" y="416.5" width="1" height="3" fill="#000"/>
<rect x="517" y="418.5" width="6.4" height="1" fill="#000"/>
<rect x="337" y="414" width="173" height="6.5" fill="#000"/>
<rect x="336" y="420" width="175" height="7" fill="#000"/>
<rect x="339" y="421.2" width="4" height="4.8" fill="#fff"/>
<rect x="341" y="415.2" width="1" height="3.8" fill="#fff"/>
<rect x="344.9" y="421.2" width="4" height="4.8" fill="#fff"/>
<rect x="346.9" y="415.2" width="1" height="3.8" fill="#fff"/>
<rect x="350.8" y="421.2" width="4" height="4.8" fill="#fff"/>
<rect x="352.8" y="415.2" width="1" height="3.8" fill="#fff"/>
<rect x="356.7" y="421.2" width="4" height="4.8" fill="#fff"/>
<rect x="358.7" y="415.2" width="1" height="3.8" fill="#fff"/>
<rect x="362.6" y="421.2" width="4" height="4.8" fill="#fff"/>
<rect x="364.6" y="415.2" width="1" height="3.8" fill="#fff"/>
<rect x="368.5" y="421.2" width="4" height="4.8" fill="#fff"/>
<rect x="370.5" y="415.2" width="1" height="3.8" fill="#fff"/>
<rect x="374.4" y="421.2" width="4" height="4.8" fill="#fff"/>
<rect x="376.4" y="415.2" width="1" height="3.8" fill="#fff"/>
<rect x="380.3" y="421.2" width="4" height="4.8" fill="#fff"/>
<rect x="382.3" y="415.2" width="1" height="3.8" fill="#fff"/>
<rect x="386.2" y="421.2" width="4" height="4.8" fill="#fff"/>
<rect x="388.2" y="415.2" width="1" height="3.8" fill="#fff"/>
<rect x="392.1" y="421.2" width="4" height="4.8" fill="#fff"/>
<rect x="394.1" y="415.2" width="1" height="3.8" fill="#fff"/>
<rect x="398" y="421.2" width="4" height="4.8" fill="#fff"/>
<rect x="400" y="415.2" width="1" height="3.8" fill="#fff"/>
<rect x="403.9" y="421.2" width="4" height="4.8" fill="#fff"/>
<rect x="405.9" y="415.2" width="1" height="3.8" fill="#fff"/>
<rect x="409.8" y="421.2" width="4" height="4.8" fill="#fff"/>
<rect x="411.8" y="415.2" width="1" height="3.8" fill="#fff"/>
<rect x="415.7" y="421.2" width="4" height="4.8" fill="#fff"/>
<rect x="417.7" y="415.2" width="1" height="3.8" fill="#fff"/>
<rect x="421.6" y="421.2" width="4" height="4.8" fill="#fff"/>
<rect x="423.6" y="415.2" width="1" height="3.8" fill="#fff"/>
<rect x="427.5" y="421.2" width="4" height="4.8" fill="#fff"/>
<rect x="429.5" y="415.2" width="1" height="3.8" fill="#fff"/>
<rect x="433.4" y="421.2" width="4" height="4.8" fill="#fff"/>
<rect x="435.4" y="415.2" width="1" height="3.8" fill="#fff"/>
<rect x="439.3" y="421.2" width="4" height="4.8" fill="#fff"/>
<rect x="441.3" y="415.2" width="1" height="3.8" fill="#fff"/>
<rect x="445.2" y="421.2" width="4" height="4.8" fill="#fff"/>
<rect x="447.2" y="415.2" width="1" height="3.8" fill="#fff"/>
<rect x="451.1" y="421.2" width="4" height="4.8" fill="#fff"/>
<rect x="453.1" y="415.2" width="1" height="3.8" fill="#fff"/>
<rect x="457" y="421.2" width="4" height="4.8" fill="#fff"/>
<rect x="459" y="415.2" width="1" height="3.8" fill="#fff"/>
<rect x="462.9" y="421.2" width="4" height="4.8" fill="#fff"/>
<rect x="464.9" y="415.2" width="1" height="3.8" fill="#fff"/>
<rect x="468.8" y="421.2" width="4" height="4.8" fill="#fff"/>
<rect x="470.8" y="415.2" width="1" height="3.8" fill="#fff"/>
<rect x="474.7" y="421.2" width="4" height="4.8" fill="#fff"/>
<rect x="476.7" y="415.2" width="1" height="3.8" fill="#fff"/>
<rect x="480.6" y="421.2" width="4" height="4.8" fill="#fff"/>
<rect x="482.6" y="415.2" width="1" height="3.8" fill="#fff"/>
<rect x="486.5" y="421.2" width="4" height="4.8" fill="#fff"/>
<rect x="488.5" y="415.2" width="1" height="3.8" fill="#fff"/>
<rect x="492.4" y="421.2" width="4" height="4.8" fill="#fff"/>
<rect x="494.4" y="415.2" width="1" height="3.8" fill="#fff"/>
<rect x="498.3" y="421.2" width="4" height="4.8" fill="#fff"/>
<rect x="500.3" y="415.2" width="1" height="3.8" fill="#fff"/>
<rect x="504.2" y="421.2" width="4" height="4.8" fill="#fff"/>
<rect x="506.2" y="415.2" width="1" height="3.8" fill="#fff"/>
<rect x="336.8" y="427" width="1.9" height="0.8" fill="#000"/>
<rect x="339.75" y="427" width="1.9" height="0.8" fill="#000"/>
<rect x="342.7" y="427" width="1.9" height="0.8" fill="#000"/>
<rect x="345.65" y="427" width="1.9" height="0.8" fill="#000"/>
<rect x="348.6" y="427" width="1.9" height="0.8" fill="#000"/>
<rect x="351.55" y="427" width="1.9" height="0.8" fill="#000"/>
<rect x="354.5" y="427" width="1.9" height="0.8" fill="#000"/>
<rect x="357.45" y="427" width="1.9" height="0.8" fill="#000"/>
<rect x="360.4" y="427" width="1.9" height="0.8" fill="#000"/>
<rect x="363.35" y="427" width="1.9" height="0.8" fill="#000"/>
<rect x="366.3" y="427" width="1.9" height="0.8" fill="#000"/>
<rect x="369.25" y="427" width="1.9" height="0.8" fill="#000"/>
<rect x="372.2" y="427" width="1.9" height="0.8" fill="#000"/>
<rect x="375.15" y="427" width="1.9" height="0.8" fill="#000"/>
<rect x="378.1" y="427" width="1.9" height="0.8" fill="#000"/>
<rect x="381.05" y="427" width="1.9" height="0.8" fill="#000"/>
<rect x="384" y="427" width="1.9" height="0.8" fill="#000"/>
<rect x="386.95" y="427" width="1.9" height="0.8" fill="#000"/>
<rect x="389.9" y="427" width="1.9" height="0.8" fill="#000"/>
<rect x="392.85" y="427" width="1.9" height="0.8" fill="#000"/>
<rect x="395.8" y="427" width="1.9" height="0.8" fill="#000"/>
<rect x="398.75" y="427" width="1.9" height="0.8" fill="#000"/>
<rect x="401.7" y="427" width="1.9" height="0.8" fill="#000"/>
<rect x="404.65" y="427" width="1.9" height="0.8" fill="#000"/>
<rect x="407.6" y="427" width="1.9" height="0.8" fill="#000"/>
<rect x="410.55" y="427" width="1.9" height="0.8" fill="#000"/>
<rect x="413.5" y="427" width="1.9" height="0.8" fill="#000"/>
<rect x="416.45" y="427" width="1.9" height="0.8" fill="#000"/>
<rect x="419.4" y="427" width="1.9" height="0.8" fill="#000"/>
<rect x="422.35" y="427" width="1.9" height="0.8" fill="#000"/>
<rect x="425.3" y="427" width="1.9" height="0.8" fill="#000"/>
<rect x="428.25" y="427" width="1.9" height="0.8" fill="#000"/>
<rect x="431.2" y="427" width="1.9" height="0.8" fill="#000"/>
<rect x="434.15" y="427" width="1.9" height="0.8" fill="#000"/>
<rect x="437.1" y="427" width="1.9" height="0.8" fill="#000"/>
<rect x="440.05" y="427" width="1.9" height="0.8" fill="#000"/>
<rect x="443" y="427" width="1.9" height="0.8" fill="#000"/>
<rect x="445.95" y="427" width="1.9" height="0.8" fill="#000"/>
<rect x="448.9" y="427" width="1.9" height="0.8" fill="#000"/>
<rect x="451.85" y="427" width="1.9" height="0.8" fill="#000"/>
<rect x="454.8" y="427" width="1.9" height="0.8" fill="#000"/>
<rect x="457.75" y="427" width="1.9" height="0.8" fill="#000"/>
<rect x="460.7" y="427" width="1.9" height="0.8" fill="#000"/>
<rect x="463.65" y="427" width="1.9" height="0.8" fill="#000"/>
<rect x="466.6" y="427" width="1.9" height="0.8" fill="#000"/>
<rect x="469.55" y="427" width="1.9" height="0.8" fill="#000"/>
<rect x="472.5" y="427" width="1.9" height="0.8" fill="#000"/>
<rect x="475.45" y="427" width="1.9" height="0.8" fill="#000"/>
<rect x="478.4" y="427" width="1.9" height="0.8" fill="#000"/>
<rect x="481.35" y="427" width="1.9" height="0.8" fill="#000"/>
<rect x="484.3" y="427" width="1.9" height="0.8" fill="#000"/>
<rect x="487.25" y="427" width="1.9" height="0.8" fill="#000"/>
<rect x="490.2" y="427" width="1.9" height="0.8" fill="#000"/>
<rect x="493.15" y="427" width="1.9" height="0.8" fill="#000"/>
<rect x="496.1" y="427" width="1.9" height="0.8" fill="#000"/>
<rect x="499.05" y="427" width="1.9" height="0.8" fill="#000"/>
<rect x="502" y="427" width="1.9" height="0.8" fill="#000"/>
<rect x="504.95" y="427" width="1.9" height="0.8" fill="#000"/>
<rect x="507.9" y="427" width="1.9" height="0.8" fill="#000"/>
<rect x="311" y="432" width="226" height="19" fill="#000"/>
<rect x="312" y="433" width="224" height="17" fill="#fff"/>
<rect x="312" y="439" width="6.5" height="1" fill="#000"/>
<rect x="312" y="446" width="6.5" height="1" fill="#000"/>
<rect x="318.5" y="432" width="3.5" height="17" fill="#000"/>
<rect x="319" y="448" width="3.6" height="1" fill="#000"/>
<rect x="322" y="437.5" width="1" height="10.5" fill="#000"/>
<rect x="322" y="447" width="10" height="1" fill="#000"/>
<rect x="331" y="438.5" width="1" height="9.5" fill="#000"/>
<rect x="329.4" y="438.5" width="2.6" height="1" fill="#000"/>
<rect x="329.4" y="433" width="1" height="6" fill="#000"/>
<rect x="322" y="437.5" width="3" height="1" fill="#000"/>
<rect x="324" y="437.5" width="1" height="3" fill="#000"/>
<rect x="324" y="439.5" width="6.4" height="1" fill="#000"/>
<rect x="528.9" y="439" width="6.5" height="1" fill="#000"/>
<rect x="528.9" y="446" width="6.5" height="1" fill="#000"/>
<rect x="525.4" y="432" width="3.5" height="17" fill="#000"/>
<rect x="524.8" y="448" width="3.6" height="1" fill="#000"/>
<rect x="524.4" y="437.5" width="1" height="10.5" fill="#000"/>
<rect x="515.4" y="447" width="10" height="1" fill="#000"/>
<rect x="515.4" y="438.5" width="1" height="9.5" fill="#000"/>
<rect x="515.4" y="438.5" width="2.6" height="1" fill="#000"/>
<rect x="517" y="433" width="1" height="6" fill="#000"/>
<rect x="522.4" y="437.5" width="3" height="1" fill="#000"/>
<rect x="522.4" y="437.5" width="1" height="3" fill="#000"/>
<rect x="517" y="439.5" width="6.4" height="1" fill="#000"/>
<rect x="337" y="435" width="173" height="6.5" fill="#000"/>
<rect x="336" y="441" width="175" height="7" fill="#000"/>
<rect x="339" y="442.2" width="4" height="4.8" fill="#fff"/>
<rect x="341" y="436.2" width="1" height="3.8" fill="#fff"/>
<rect x="344.9" y="442.2" width="4" height="4.8" fill="#fff"/>
<rect x="346.9" y="436.2" width="1" height="3.8" fill="#fff"/>
<rect x="350.8" y="442.2" width="4" height="4.8" fill="#fff"/>
<rect x="352.8" y="436.2" width="1" height="3.8" fill="#fff"/>
<rect x="356.7" y="442.2" width="4" height="4.8" fill="#fff"/>
<rect x="358.7" y="436.2" width="1" height="3.8" fill="#fff"/>
<rect x="362.6" y="442.2" width="4" height="4.8" fill="#fff"/>
<rect x="364.6" y="436.2" width="1" height="3.8" fill="#fff"/>
<rect x="368.5" y="442.2" width="4" height="4.8" fill="#fff"/>
<rect x="370.5" y="436.2" width="1" height="3.8" fill="#fff"/>
<rect x="374.4" y="442.2" width="4" height="4.8" fill="#fff"/>
<rect x="376.4" y="436.2" width="1" height="3.8" fill="#fff"/>
<rect x="380.3" y="442.2" width="4" height="4.8" fill="#fff"/>
<rect x="382.3" y="436.2" width="1" height="3.8" fill="#fff"/>
<rect x="386.2" y="442.2" width="4" height="4.8" fill="#fff"/>
<rect x="388.2" y="436.2" width="1" height="3.8" fill="#fff"/>
<rect x="392.1" y="442.2" width="4" height="4.8" fill="#fff"/>
<rect x="394.1" y="436.2" width="1" height="3.8" fill="#fff"/>
<rect x="398" y="442.2" width="4" height="4.8" fill="#fff"/>
<rect x="400" y="436.2" width="1" height="3.8" fill="#fff"/>
<rect x="403.9" y="442.2" width="4" height="4.8" fill="#fff"/>
<rect x="405.9" y="436.2" width="1" height="3.8" fill="#fff"/>
<rect x="409.8" y="442.2" width="4" height="4.8" fill="#fff"/>
<rect x="411.8" y="436.2" width="1" height="3.8" fill="#fff"/>
<rect x="415.7" y="442.2" width="4" height="4.8" fill="#fff"/>
<rect x="417.7" y="436.2" width="1" height="3.8" fill="#fff"/>
<rect x="421.6" y="442.2" width="4" height="4.8" fill="#fff"/>
<rect x="423.6" y="436.2" width="1" height="3.8" fill="#fff"/>
<rect x="427.5" y="442.2" width="4" height="4.8" fill="#fff"/>
<rect x="429.5" y="436.2" width="1" height="3.8" fill="#fff"/>
<rect x="433.4" y="442.2" width="4" height="4.8" fill="#fff"/>
<rect x="435.4" y="436.2" width="1" height="3.8" fill="#fff"/>
<rect x="439.3" y="442.2" width="4" height="4.8" fill="#fff"/>
<rect x="441.3" y="436.2" width="1" height="3.8" fill="#fff"/>
<rect x="445.2" y="442.2" width="4" height="4.8" fill="#fff"/>
<rect x="447.2" y="436.2" width="1" height="3.8" fill="#fff"/>
<rect x="451.1" y="442.2" width="4" height="4.8" fill="#fff"/>
<rect x="453.1" y="436.2" width="1" height="3.8" fill="#fff"/>
<rect x="457" y="442.2" width="4" height="4.8" fill="#fff"/>
<rect x="459" y="436.2" width="1" height="3.8" fill="#fff"/>
<rect x="462.9" y="442.2" width="4" height="4.8" fill="#fff"/>
<rect x="464.9" y="436.2" width="1" height="3.8" fill="#fff"/>
<rect x="468.8" y="442.2" width="4" height="4.8" fill="#fff"/>
<rect x="470.8" y="436.2" width="1" height="3.8" fill="#fff"/>
<rect x="474.7" y="442.2" width="4" height="4.8" fill="#fff"/>
<rect x="476.7" y="436.2" width="1" height="3.8" fill="#fff"/>
<rect x="480.6" y="442.2" width="4" height="4.8" fill="#fff"/>
<rect x="482.6" y="436.2" width="1" height="3.8" fill="#fff"/>
<rect x="486.5" y="442.2" width="4" height="4.8" fill="#fff"/>
<rect x="488.5" y="436.2" width="1" height="3.8" fill="#fff"/>
<rect x="492.4" y="442.2" width="4" height="4.8" fill="#fff"/>
<rect x="494.4" y="436.2" width="1" height="3.8" fill="#fff"/>
<rect x="498.3" y="442.2" width="4" height="4.8" fill="#fff"/>
<rect x="500.3" y="436.2" width="1" height="3.8" fill="#fff"/>
<rect x="504.2" y="442.2" width="4" height="4.8" fill="#fff"/>
<rect x="506.2" y="436.2" width="1" height="3.8" fill="#fff"/>
<rect x="336.8" y="448" width="1.9" height="0.8" fill="#000"/>
<rect x="339.75" y="448" width="1.9" height="0.8" fill="#000"/>
<rect x="342.7" y="448" width="1.9" height="0.8" fill="#000"/>
<rect x="345.65" y="448" width="1.9" height="0.8" fill="#000"/>
<rect x="348.6" y="448" width="1.9" height="0.8" fill="#000"/>
<rect x="351.55" y="448" width="1.9" height="0.8" fill="#000"/>
<rect x="354.5" y="448" width="1.9" height="0.8" fill="#000"/>
<rect x="357.45" y="448" width="1.9" height="0.8" fill="#000"/>
<rect x="360.4" y="448" width="1.9" height="0.8" fill="#000"/>
<rect x="363.35" y="448" width="1.9" height="0.8" fill="#000"/>
<rect x="366.3" y="448" width="1.9" height="0.8" fill="#000"/>
<rect x="369.25" y="448" width="1.9" height="0.8" fill="#000"/>
<rect x="372.2" y="448" width="1.9" height="0.8" fill="#000"/>
<rect x="375.15" y="448" width="1.9" height="0.8" fill="#000"/>
<rect x="378.1" y="448" width="1.9" height="0.8" fill="#000"/>
<rect x="381.05" y="448" width="1.9" height="0.8" fill="#000"/>
<rect x="384" y="448" width="1.9" height="0.8" fill="#000"/>
<rect x="386.95" y="448" width="1.9" height="0.8" fill="#000"/>
<rect x="389.9" y="448" width="1.9" height="0.8" fill="#000"/>
<rect x="392.85" y="448" width="1.9" height="0.8" fill="#000"/>
<rect x="395.8" y="448" width="1.9" height="0.8" fill="#000"/>
<rect x="398.75" y="448" width="1.9" height="0.8" fill="#000"/>
<rect x="401.7" y="448" width="1.9" height="0.8" fill="#000"/>
<rect x="404.65" y="448" width="1.9" height="0.8" fill="#000"/>
<rect x="407.6" y="448" width="1.9" height="0.8" fill="#000"/>
<rect x="410.55" y="448" width="1.9" height="0.8" fill="#000"/>
<rect x="413.5" y="448" width="1.9" height="0.8" fill="#000"/>
<rect x="416.45" y="448" width="1.9" height="0.8" fill="#000"/>
<rect x="419.4" y="448" width="1.9" height="0.8" fill="#000"/>
<rect x="422.35" y="448" width="1.9" height="0.8" fill="#000"/>
<rect x="425.3" y="448" width="1.9" height="0.8" fill="#000"/>
<rect x="428.25" y="448" width="1.9" height="0.8" fill="#000"/>
<rect x="431.2" y="448" width="1.9" height="0.8" fill="#000"/>
<rect x="434.15" y="448" width="1.9" height="0.8" fill="#000"/>
<rect x="437.1" y="448" width="1.9" height="0.8" fill="#000"/>
<rect x="440.05" y="448" width="1.9" height="0.8" fill="#000"/>
<rect x="443" y="448" width="1.9" height="0.8" fill="#000"/>
<rect x="445.95" y="448" width="1.9" height="0.8" fill="#000"/>
<rect x="448.9" y="448" width="1.9" height="0.8" fill="#000"/>
<rect x="451.85" y="448" width="1.9" height="0.8" fill="#000"/>
<rect x="454.8" y="448" width="1.9" height="0.8" fill="#000"/>
<rect x="457.75" y="448" width="1.9" height="0.8" fill="#000"/>
<rect x="460.7" y="448" width="1.9" height="0.8" fill="#000"/>
<rect x="463.65" y="448" width="1.9" height="0.8" fill="#000"/>
<rect x="466.6" y="448" width="1.9" height="0.8" fill="#000"/>
<rect x="469.55" y="448" width="1.9" height="0.8" fill="#000"/>
<rect x="472.5" y="448" width="1.9" height="0.8" fill="#000"/>
<rect x="475.45" y="448" width="1.9" height="0.8" fill="#000"/>
<rect x="478.4" y="448" width="1.9" height="0.8" fill="#000"/>
<rect x="481.35" y="448" width="1.9" height="0.8" fill="#000"/>
<rect x="484.3" y="448" width="1.9" height="0.8" fill="#000"/>
<rect x="487.25" y="448" width="1.9" height="0.8" fill="#000"/>
<rect x="490.2" y="448" width="1.9" height="0.8" fill="#000"/>
<rect x="493.15" y="448" width="1.9" height="0.8" fill="#000"/>
<rect x="496.1" y="448" width="1.9" height="0.8" fill="#000"/>
<rect x="499.05" y="448" width="1.9" height="0.8" fill="#000"/>
<rect x="502" y="448" width="1.9" height="0.8" fill="#000"/>
<rect x="504.95" y="448" width="1.9" height="0.8" fill="#000"/>
<rect x="507.9" y="448" width="1.9" height="0.8" fill="#000"/>
<rect x="311" y="452" width="226" height="19" fill="#000"/>
<rect x="312" y="453" width="224" height="17" fill="#fff"/>
<rect x="312" y="459" width="6.5" height="1" fill="#000"/>
<rect x="312" y="466" width="6.5" height="1" fill="#000"/>
<rect x="318.5" y="452" width="3.5" height="17" fill="#000"/>
<rect x="319" y="468" width="3.6" height="1" fill="#000"/>
<rect x="322" y="457.5" width="1" height="10.5" fill="#000"/>
<rect x="322" y="467" width="10" height="1" fill="#000"/>
<rect x="331" y="458.5" width="1" height="9.5" fill="#000"/>
<rect x="329.4" y="458.5" width="2.6" height="1" fill="#000"/>
<rect x="329.4" y="453" width="1" height="6" fill="#000"/>
<rect x="322" y="457.5" width="3" height="1" fill="#000"/>
<rect x="324" y="457.5" width="1" height="3" fill="#000"/>
<rect x="324" y="459.5" width="6.4" height="1" fill="#000"/>
<rect x="528.9" y="459" width="6.5" height="1" fill="#000"/>
<rect x="528.9" y="466" width="6.5" height="1" fill="#000"/>
<rect x="525.4" y="452" width="3.5" height="17" fill="#000"/>
<rect x="524.8" y="468" width="3.6" height="1" fill="#000"/>
<rect x="524.4" y="457.5" width="1" height="10.5" fill="#000"/>
<rect x="515.4" y="467" width="10" height="1" fill="#000"/>
<rect x="515.4" y="458.5" width="1" height="9.5" fill="#000"/>
<rect x="515.4" y="458.5" width="2.6" height="1" fill="#000"/>
<rect x="517" y="453" width="1" height="6" fill="#000"/>
<rect x="522.4" y="457.5" width="3" height="1" fill="#000"/>
<rect x="522.4" y="457.5" width="1" height="3" fill="#000"/>
<rect x="517" y="459.5" width="6.4" height="1" fill="#000"/>
<rect x="337" y="455" width="173" height="6.5" fill="#000"/>
<rect x="336" y="461" width="175" height="7" fill="#000"/>
<rect x="339" y="462.2" width="4" height="4.8" fill="#fff"/>
<rect x="341" y="456.2" width="1" height="3.8" fill="#fff"/>
<rect x="344.9" y="462.2" width="4" height="4.8" fill="#fff"/>
<rect x="346.9" y="456.2" width="1" height="3.8" fill="#fff"/>
<rect x="350.8" y="462.2" width="4" height="4.8" fill="#fff"/>
<rect x="352.8" y="456.2" width="1" height="3.8" fill="#fff"/>
<rect x="356.7" y="462.2" width="4" height="4.8" fill="#fff"/>
<rect x="358.7" y="456.2" width="1" height="3.8" fill="#fff"/>
<rect x="362.6" y="462.2" width="4" height="4.8" fill="#fff"/>
<rect x="364.6" y="456.2" width="1" height="3.8" fill="#fff"/>
<rect x="368.5" y="462.2" width="4" height="4.8" fill="#fff"/>
<rect x="370.5" y="456.2" width="1" height="3.8" fill="#fff"/>
<rect x="374.4" y="462.2" width="4" height="4.8" fill="#fff"/>
<rect x="376.4" y="456.2" width="1" height="3.8" fill="#fff"/>
<rect x="380.3" y="462.2" width="4" height="4.8" fill="#fff"/>
<rect x="382.3" y="456.2" width="1" height="3.8" fill="#fff"/>
<rect x="386.2" y="462.2" width="4" height="4.8" fill="#fff"/>
<rect x="388.2" y="456.2" width="1" height="3.8" fill="#fff"/>
<rect x="392.1" y="462.2" width="4" height="4.8" fill="#fff"/>
<rect x="394.1" y="456.2" width="1" height="3.8" fill="#fff"/>
<rect x="398" y="462.2" width="4" height="4.8" fill="#fff"/>
<rect x="400" y="456.2" width="1" height="3.8" fill="#fff"/>
<rect x="403.9" y="462.2" width="4" height="4.8" fill="#fff"/>
<rect x="405.9" y="456.2" width="1" height="3.8" fill="#fff"/>
<rect x="409.8" y="462.2" width="4" height="4.8" fill="#fff"/>
<rect x="411.8" y="456.2" width="1" height="3.8" fill="#fff"/>
<rect x="415.7" y="462.2" width="4" height="4.8" fill="#fff"/>
<rect x="417.7" y="456.2" width="1" height="3.8" fill="#fff"/>
<rect x="421.6" y="462.2" width="4" height="4.8" fill="#fff"/>
<rect x="423.6" y="456.2" width="1" height="3.8" fill="#fff"/>
<rect x="427.5" y="462.2" width="4" height="4.8" fill="#fff"/>
<rect x="429.5" y="456.2" width="1" height="3.8" fill="#fff"/>
<rect x="433.4" y="462.2" width="4" height="4.8" fill="#fff"/>
<rect x="435.4" y="456.2" width="1" height="3.8" fill="#fff"/>
<rect x="439.3" y="462.2" width="4" height="4.8" fill="#fff"/>
<rect x="441.3" y="456.2" width="1" height="3.8" fill="#fff"/>
<rect x="445.2" y="462.2" width="4" height="4.8" fill="#fff"/>
<rect x="447.2" y="456.2" width="1" height="3.8" fill="#fff"/>
<rect x="451.1" y="462.2" width="4" height="4.8" fill="#fff"/>
<rect x="453.1" y="456.2" width="1" height="3.8" fill="#fff"/>
<rect x="457" y="462.2" width="4" height="4.8" fill="#fff"/>
<rect x="459" y="456.2" width="1" height="3.8" fill="#fff"/>
<rect x="462.9" y="462.2" width="4" height="4.8" fill="#fff"/>
<rect x="464.9" y="456.2" width="1" height="3.8" fill="#fff"/>
<rect x="468.8" y="462.2" width="4" height="4.8" fill="#fff"/>
<rect x="470.8" y="456.2" width="1" height="3.8" fill="#fff"/>
<rect x="474.7" y="462.2" width="4" height="4.8" fill="#fff"/>
<rect x="476.7" y="456.2" width="1" height="3.8" fill="#fff"/>
<rect x="480.6" y="462.2" width="4" height="4.8" fill="#fff"/>
<rect x="482.6" y="456.2" width="1" height="3.8" fill="#fff"/>
<rect x="486.5" y="462.2" width="4" height="4.8" fill="#fff"/>
<rect x="488.5" y="456.2" width="1" height="3.8" fill="#fff"/>
<rect x="492.4" y="462.2" width="4" height="4.8" fill="#fff"/>
<rect x="494.4" y="456.2" width="1" height="3.8" fill="#fff"/>
<rect x="498.3" y="462.2" width="4" height="4.8" fill="#fff"/>
<rect x="500.3" y="456.2" width="1" height="3.8" fill="#fff"/>
<rect x="504.2" y="462.2" width="4" height="4.8" fill="#fff"/>
<rect x="506.2" y="456.2" width="1" height="3.8" fill="#fff"/>
<rect x="336.8" y="468" width="1.9" height="0.8" fill="#000"/>
<rect x="339.75" y="468" width="1.9" height="0.8" fill="#000"/>
<rect x="342.7" y="468" width="1.9" height="0.8" fill="#000"/>
<rect x="345.65" y="468" width="1.9" height="0.8" fill="#000"/>
<rect x="348.6" y="468" width="1.9" height="0.8" fill="#000"/>
<rect x="351.55" y="468" width="1.9" height="0.8" fill="#000"/>
<rect x="354.5" y="468" width="1.9" height="0.8" fill="#000"/>
<rect x="357.45" y="468" width="1.9" height="0.8" fill="#000"/>
<rect x="360.4" y="468" width="1.9" height="0.8" fill="#000"/>
<rect x="363.35" y="468" width="1.9" height="0.8" fill="#000"/>
<rect x="366.3" y="468" width="1.9" height="0.8" fill="#000"/>
<rect x="369.25" y="468" width="1.9" height="0.8" fill="#000"/>
<rect x="372.2" y="468" width="1.9" height="0.8" fill="#000"/>
<rect x="375.15" y="468" width="1.9" height="0.8" fill="#000"/>
<rect x="378.1" y="468" width="1.9" height="0.8" fill="#000"/>
<rect x="381.05" y="468" width="1.9" height="0.8" fill="#000"/>
<rect x="384" y="468" width="1.9" height="0.8" fill="#000"/>
<rect x="386.95" y="468" width="1.9" height="0.8" fill="#000"/>
<rect x="389.9" y="468" width="1.9" height="0.8" fill="#000"/>
<rect x="392.85" y="468" width="1.9" height="0.8" fill="#000"/>
<rect x="395.8" y="468" width="1.9" height="0.8" fill="#000"/>
<rect x="398.75" y="468" width="1.9" height="0.8" fill="#000"/>
<rect x="401.7" y="468" width="1.9" height="0.8" fill="#000"/>
<rect x="404.65" y="468" width="1.9" height="0.8" fill="#000"/>
<rect x="407.6" y="468" width="1.9" height="0.8" fill="#000"/>
<rect x="410.55" y="468" width="1.9" height="0.8" fill="#000"/>
<rect x="413.5" y="468" width="1.9" height="0.8" fill="#000"/>
<rect x="416.45" y="468" width="1.9" height="0.8" fill="#000"/>
<rect x="419.4" y="468" width="1.9" height="0.8" fill="#000"/>
<rect x="422.35" y="468" width="1.9" height="0.8" fill="#000"/>
<rect x="425.3" y="468" width="1.9" height="0.8" fill="#000"/>
<rect x="428.25" y="468" width="1.9" height="0.8" fill="#000"/>
<rect x="431.2" y="468" width="1.9" height="0.8" fill="#000"/>
<rect x="434.15" y="468" width="1.9" height="0.8" fill="#000"/>
<rect x="437.1" y="468" width="1.9" height="0.8" fill="#000"/>
<rect x="440.05" y="468" width="1.9" height="0.8" fill="#000"/>
<rect x="443" y="468" width="1.9" height="0.8" fill="#000"/>
<rect x="445.95" y="468" width="1.9" height="0.8" fill="#000"/>
<rect x="448.9" y="468" width="1.9" height="0.8" fill="#000"/>
<rect x="451.85" y="468" width="1.9" height="0.8" fill="#000"/>
<rect x="454.8" y="468" width="1.9" height="0.8" fill="#000"/>
<rect x="457.75" y="468" width="1.9" height="0.8" fill="#000"/>
<rect x="460.7" y="468" width="1.9" height="0.8" fill="#000"/>
<rect x="463.65" y="468" width="1.9" height="0.8" fill="#000"/>
<rect x="466.6" y="468" width="1.9" height="0.8" fill="#000"/>
<rect x="469.55" y="468" width="1.9" height="0.8" fill="#000"/>
<rect x="472.5" y="468" width="1.9" height="0.8" fill="#000"/>
<rect x="475.45" y="468" width="1.9" height="0.8" fill="#000"/>
<rect x="478.4" y="468" width="1.9" height="0.8" fill="#000"/>
<rect x="481.35" y="468" width="1.9" height="0.8" fill="#000"/>
<rect x="484.3" y="468" width="1.9" height="0.8" fill="#000"/>
<rect x="487.25" y="468" width="1.9" height="0.8" fill="#000"/>
<rect x="490.2" y="468" width="1.9" height="0.8" fill="#000"/>
<rect x="493.15" y="468" width="1.9" height="0.8" fill="#000"/>
<rect x="496.1" y="468" width="1.9" height="0.8" fill="#000"/>
<rect x="499.05" y="468" width="1.9" height="0.8" fill="#000"/>
<rect x="502" y="468" width="1.9" height="0.8" fill="#000"/>
<rect x="504.95" y="468" width="1.9" height="0.8" fill="#000"/>
<rect x="507.9" y="468" width="1.9" height="0.8" fill="#000"/>
<rect x="311" y="472" width="226" height="19" fill="#000"/>
<rect x="312" y="473" width="224" height="17" fill="#fff"/>
<rect x="312" y="479" width="6.5" height="1" fill="#000"/>
<rect x="312" y="486" width="6.5" height="1" fill="#000"/>
<rect x="318.5" y="472" width="3.5" height="17" fill="#000"/>
<rect x="319" y="488" width="3.6" height="1" fill="#000"/>
<rect x="322" y="477.5" width="1" height="10.5" fill="#000"/>
<rect x="322" y="487" width="10" height="1" fill="#000"/>
<rect x="331" y="478.5" width="1" height="9.5" fill="#000"/>
<rect x="329.4" y="478.5" width="2.6" height="1" fill="#000"/>
<rect x="329.4" y="473" width="1" height="6" fill="#000"/>
<rect x="322" y="477.5" width="3" height="1" fill="#000"/>
<rect x="324" y="477.5" width="1" height="3" fill="#000"/>
<rect x="324" y="479.5" width="6.4" height="1" fill="#000"/>
<rect x="528.9" y="479" width="6.5" height="1" fill="#000"/>
<rect x="528.9" y="486" width="6.5" height="1" fill="#000"/>
<rect x="525.4" y="472" width="3.5" height="17" fill="#000"/>
<rect x="524.8" y="488" width="3.6" height="1" fill="#000"/>
<rect x="524.4" y="477.5" width="1" height="10.5" fill="#000"/>
<rect x="515.4" y="487" width="10" height="1" fill="#000"/>
<rect x="515.4" y="478.5" width="1" height="9.5" fill="#000"/>
<rect x="515.4" y="478.5" width="2.6" height="1" fill="#000"/>
<rect x="517" y="473" width="1" height="6" fill="#000"/>
<rect x="522.4" y="477.5" width="3" height="1" fill="#000"/>
<rect x="522.4" y="477.5" width="1" height="3" fill="#000"/>
<rect x="517" y="479.5" width="6.4" height="1" fill="#000"/>
<rect x="337" y="475" width="173" height="6.5" fill="#000"/>
<rect x="336" y="481" width="175" height="7" fill="#000"/>
<rect x="339" y="482.2" width="4" height="4.8" fill="#fff"/>
<rect x="341" y="476.2" width="1" height="3.8" fill="#fff"/>
<rect x="344.9" y="482.2" width="4" height="4.8" fill="#fff"/>
<rect x="346.9" y="476.2" width="1" height="3.8" fill="#fff"/>
<rect x="350.8" y="482.2" width="4" height="4.8" fill="#fff"/>
<rect x="352.8" y="476.2" width="1" height="3.8" fill="#fff"/>
<rect x="356.7" y="482.2" width="4" height="4.8" fill="#fff"/>
<rect x="358.7" y="476.2" width="1" height="3.8" fill="#fff"/>
<rect x="362.6" y="482.2" width="4" height="4.8" fill="#fff"/>
<rect x="364.6" y="476.2" width="1" height="3.8" fill="#fff"/>
<rect x="368.5" y="482.2" width="4" height="4.8" fill="#fff"/>
<rect x="370.5" y="476.2" width="1" height="3.8" fill="#fff"/>
<rect x="374.4" y="482.2" width="4" height="4.8" fill="#fff"/>
<rect x="376.4" y="476.2" width="1" height="3.8" fill="#fff"/>
<rect x="380.3" y="482.2" width="4" height="4.8" fill="#fff"/>
<rect x="382.3" y="476.2" width="1" height="3.8" fill="#fff"/>
<rect x="386.2" y="482.2" width="4" height="4.8" fill="#fff"/>
<rect x="388.2" y="476.2" width="1" height="3.8" fill="#fff"/>
<rect x="392.1" y="482.2" width="4" height="4.8" fill="#fff"/>
<rect x="394.1" y="476.2" width="1" height="3.8" fill="#fff"/>
<rect x="398" y="482.2" width="4" height="4.8" fill="#fff"/>
<rect x="400" y="476.2" width="1" height="3.8" fill="#fff"/>
<rect x="403.9" y="482.2" width="4" height="4.8" fill="#fff"/>
<rect x="405.9" y="476.2" width="1" height="3.8" fill="#fff"/>
<rect x="409.8" y="482.2" width="4" height="4.8" fill="#fff"/>
<rect x="411.8" y="476.2" width="1" height="3.8" fill="#fff"/>
<rect x="415.7" y="482.2" width="4" height="4.8" fill="#fff"/>
<rect x="417.7" y="476.2" width="1" height="3.8" fill="#fff"/>
<rect x="421.6" y="482.2" width="4" height="4.8" fill="#fff"/>
<rect x="423.6" y="476.2" width="1" height="3.8" fill="#fff"/>
<rect x="427.5" y="482.2" width="4" height="4.8" fill="#fff"/>
<rect x="429.5" y="476.2" width="1" height="3.8" fill="#fff"/>
<rect x="433.4" y="482.2" width="4" height="4.8" fill="#fff"/>
<rect x="435.4" y="476.2" width="1" height="3.8" fill="#fff"/>
<rect x="439.3" y="482.2" width="4" height="4.8" fill="#fff"/>
<rect x="441.3" y="476.2" width="1" height="3.8" fill="#fff"/>
<rect x="445.2" y="482.2" width="4" height="4.8" fill="#fff"/>
<rect x="447.2" y="476.2" width="1" height="3.8" fill="#fff"/>
<rect x="451.1" y="482.2" width="4" height="4.8" fill="#fff"/>
<rect x="453.1" y="476.2" width="1" height="3.8" fill="#fff"/>
<rect x="457" y="482.2" width="4" height="4.8" fill="#fff"/>
<rect x="459" y="476.2" width="1" height="3.8" fill="#fff"/>
<rect x="462.9" y="482.2" width="4" height="4.8" fill="#fff"/>
<rect x="464.9" y="476.2" width="1" height="3.8" fill="#fff"/>
<rect x="468.8" y="482.2" width="4" height="4.8" fill="#fff"/>
<rect x="470.8" y="476.2" width="1" height="3.8" fill="#fff"/>
<rect x="474.7" y="482.2" width="4" height="4.8" fill="#fff"/>
<rect x="476.7" y="476.2" width="1" height="3.8" fill="#fff"/>
<rect x="480.6" y="482.2" width="4" height="4.8" fill="#fff"/>
<rect x="482.6" y="476.2" width="1" height="3.8" fill="#fff"/>
<rect x="486.5" y="482.2" width="4" height="4.8" fill="#fff"/>
<rect x="488.5" y="476.2" width="1" height="3.8" fill="#fff"/>
<rect x="492.4" y="482.2" width="4" height="4.8" fill="#fff"/>
<rect x="494.4" y="476.2" width="1" height="3.8" fill="#fff"/>
<rect x="498.3" y="482.2" width="4" height="4.8" fill="#fff"/>
<rect x="500.3" y="476.2" width="1" height="3.8" fill="#fff"/>
<rect x="504.2" y="482.2" width="4" height="4.8" fill="#fff"/>
<rect x="506.2" y="476.2" width="1" height="3.8" fill="#fff"/>
<rect x="336.8" y="488" width="1.9" height="0.8" fill="#000"/>
<rect x="339.75" y="488" width="1.9" height="0.8" fill="#000"/>
<rect x="342.7" y="488" width="1.9" height="0.8" fill="#000"/>
<rect x="345.65" y="488" width="1.9" height="0.8" fill="#000"/>
<rect x="348.6" y="488" width="1.9" height="0.8" fill="#000"/>
<rect x="351.55" y="488" width="1.9" height="0.8" fill="#000"/>
<rect x="354.5" y="488" width="1.9" height="0.8" fill="#000"/>
<rect x="357.45" y="488" width="1.9" height="0.8" fill="#000"/>
<rect x="360.4" y="488" width="1.9" height="0.8" fill="#000"/>
<rect x="363.35" y="488" width="1.9" height="0.8" fill="#000"/>
<rect x="366.3" y="488" width="1.9" height="0.8" fill="#000"/>
<rect x="369.25" y="488" width="1.9" height="0.8" fill="#000"/>
<rect x="372.2" y="488" width="1.9" height="0.8" fill="#000"/>
<rect x="375.15" y="488" width="1.9" height="0.8" fill="#000"/>
<rect x="378.1" y="488" width="1.9" height="0.8" fill="#000"/>
<rect x="381.05" y="488" width="1.9" height="0.8" fill="#000"/>
<rect x="384" y="488" width="1.9" height="0.8" fill="#000"/>
<rect x="386.95" y="488" width="1.9" height="0.8" fill="#000"/>
<rect x="389.9" y="488" width="1.9" height="0.8" fill="#000"/>
<rect x="392.85" y="488" width="1.9" height="0.8" fill="#000"/>
<rect x="395.8" y="488" width="1.9" height="0.8" fill="#000"/>
<rect x="398.75" y="488" width="1.9" height="0.8" fill="#000"/>
<rect x="401.7" y="488" width="1.9" height="0.8" fill="#000"/>
<rect x="404.65" y="488" width="1.9" height="0.8" fill="#000"/>
<rect x="407.6" y="488" width="1.9" height="0.8" fill="#000"/>
<rect x="410.55" y="488" width="1.9" height="0.8" fill="#000"/>
<rect x="413.5" y="488" width="1.9" height="0.8" fill="#000"/>
<rect x="416.45" y="488" width="1.9" height="0.8" fill="#000"/>
<rect x="419.4" y="488" width="1.9" height="0.8" fill="#000"/>
<rect x="422.35" y="488" width="1.9" height="0.8" fill="#000"/>
<rect x="425.3" y="488" width="1.9" height="0.8" fill="#000"/>
<rect x="428.25" y="488" width="1.9" height="0.8" fill="#000"/>
<rect x="431.2" y="488" width="1.9" height="0.8" fill="#000"/>
<rect x="434.15" y="488" width="1.9" height="0.8" fill="#000"/>
<rect x="437.1" y="488" width="1.9" height="0.8" fill="#000"/>
<rect x="440.05" y="488" width="1.9" height="0.8" fill="#000"/>
<rect x="443" y="488" width="1.9" height="0.8" fill="#000"/>
<rect x="445.95" y="488" width="1.9" height="0.8" fill="#000"/>
<rect x="448.9" y="488" width="1.9" height="0.8" fill="#000"/>
<rect x="451.85" y="488" width="1.9" height="0.8" fill="#000"/>
<rect x="454.8" y="488" width="1.9" height="0.8" fill="#000"/>
<rect x="457.75" y="488" width="1.9" height="0.8" fill="#000"/>
<rect x="460.7" y="488" width="1.9" height="0.8" fill="#000"/>
<rect x="463.65" y="488" width="1.9" height="0.8" fill="#000"/>
<rect x="466.6" y="488" width="1.9" height="0.8" fill="#000"/>
<rect x="469.55" y="488" width="1.9" height="0.8" fill="#000"/>
<rect x="472.5" y="488" width="1.9" height="0.8" fill="#000"/>
<rect x="475.45" y="488" width="1.9" height="0.8" fill="#000"/>
<rect x="478.4" y="488" width="1.9" height="0.8" fill="#000"/>
<rect x="481.35" y="488" width="1.9" height="0.8" fill="#000"/>
<rect x="484.3" y="488" width="1.9" height="0.8" fill="#000"/>
<rect x="487.25" y="488" width="1.9" height="0.8" fill="#000"/>
<rect x="490.2" y="488" width="1.9" height="0.8" fill="#000"/>
<rect x="493.15" y="488" width="1.9" height="0.8" fill="#000"/>
<rect x="496.1" y="488" width="1.9" height="0.8" fill="#000"/>
<rect x="499.05" y="488" width="1.9" height="0.8" fill="#000"/>
<rect x="502" y="488" width="1.9" height="0.8" fill="#000"/>
<rect x="504.95" y="488" width="1.9" height="0.8" fill="#000"/>
<rect x="507.9" y="488" width="1.9" height="0.8" fill="#000"/>
<rect x="311" y="492" width="226" height="19" fill="#000"/>
<rect x="312" y="493" width="224" height="17" fill="#fff"/>
<rect x="312" y="499" width="6.5" height="1" fill="#000"/>
<rect x="312" y="506" width="6.5" height="1" fill="#000"/>
<rect x="318.5" y="492" width="3.5" height="17" fill="#000"/>
<rect x="319" y="508" width="3.6" height="1" fill="#000"/>
<rect x="322" y="497.5" width="1" height="10.5" fill="#000"/>
<rect x="322" y="507" width="10" height="1" fill="#000"/>
<rect x="331" y="498.5" width="1" height="9.5" fill="#000"/>
<rect x="329.4" y="498.5" width="2.6" height="1" fill="#000"/>
<rect x="329.4" y="493" width="1" height="6" fill="#000"/>
<rect x="322" y="497.5" width="3" height="1" fill="#000"/>
<rect x="324" y="497.5" width="1" height="3" fill="#000"/>
<rect x="324" y="499.5" width="6.4" height="1" fill="#000"/>
<rect x="528.9" y="499" width="6.5" height="1" fill="#000"/>
<rect x="528.9" y="506" width="6.5" height="1" fill="#000"/>
<rect x="525.4" y="492" width="3.5" height="17" fill="#000"/>
<rect x="524.8" y="508" width="3.6" height="1" fill="#000"/>
<rect x="524.4" y="497.5" width="1" height="10.5" fill="#000"/>
<rect x="515.4" y="507" width="10" height="1" fill="#000"/>
<rect x="515.4" y="498.5" width="1" height="9.5" fill="#000"/>
<rect x="515.4" y="498.5" width="2.6" height="1" fill="#000"/>
<rect x="517" y="493" width="1" height="6" fill="#000"/>
<rect x="522.4" y="497.5" width="3" height="1" fill="#000"/>
<rect x="522.4" y="497.5" width="1" height="3" fill="#000"/>
<rect x="517" y="499.5" width="6.4" height="1" fill="#000"/>
<rect x="337" y="495" width="173" height="6.5" fill="#000"/>
<rect x="336" y="501" width="175" height="7" fill="#000"/>
<rect x="339" y="502.2" width="4" height="4.8" fill="#fff"/>
<rect x="341" y="496.2" width="1" height="3.8" fill="#fff"/>
<rect x="344.9" y="502.2" width="4" height="4.8" fill="#fff"/>
<rect x="346.9" y="496.2" width="1" height="3.8" fill="#fff"/>
<rect x="350.8" y="502.2" width="4" height="4.8" fill="#fff"/>
<rect x="352.8" y="496.2" width="1" height="3.8" fill="#fff"/>
<rect x="356.7" y="502.2" width="4" height="4.8" fill="#fff"/>
<rect x="358.7" y="496.2" width="1" height="3.8" fill="#fff"/>
<rect x="362.6" y="502.2" width="4" height="4.8" fill="#fff"/>
<rect x="364.6" y="496.2" width="1" height="3.8" fill="#fff"/>
<rect x="368.5" y="502.2" width="4" height="4.8" fill="#fff"/>
<rect x="370.5" y="496.2" width="1" height="3.8" fill="#fff"/>
<rect x="374.4" y="502.2" width="4" height="4.8" fill="#fff"/>
<rect x="376.4" y="496.2" width="1" height="3.8" fill="#fff"/>
<rect x="380.3" y="502.2" width="4" height="4.8" fill="#fff"/>
<rect x="382.3" y="496.2" width="1" height="3.8" fill="#fff"/>
<rect x="386.2" y="502.2" width="4" height="4.8" fill="#fff"/>
<rect x="388.2" y="496.2" width="1" height="3.8" fill="#fff"/>
<rect x="392.1" y="502.2" width="4" height="4.8" fill="#fff"/>
<rect x="394.1" y="496.2" width="1" height="3.8" fill="#fff"/>
<rect x="398" y="502.2" width="4" height="4.8" fill="#fff"/>
<rect x="400" y="496.2" width="1" height="3.8" fill="#fff"/>
<rect x="403.9" y="502.2" width="4" height="4.8" fill="#fff"/>
<rect x="405.9" y="496.2" width="1" height="3.8" fill="#fff"/>
<rect x="409.8" y="502.2" width="4" height="4.8" fill="#fff"/>
<rect x="411.8" y="496.2" width="1" height="3.8" fill="#fff"/>
<rect x="415.7" y="502.2" width="4" height="4.8" fill="#fff"/>
<rect x="417.7" y="496.2" width="1" height="3.8" fill="#fff"/>
<rect x="421.6" y="502.2" width="4" height="4.8" fill="#fff"/>
<rect x="423.6" y="496.2" width="1" height="3.8" fill="#fff"/>
<rect x="427.5" y="502.2" width="4" height="4.8" fill="#fff"/>
<rect x="429.5" y="496.2" width="1" height="3.8" fill="#fff"/>
<rect x="433.4" y="502.2" width="4" height="4.8" fill="#fff"/>
<rect x="435.4" y="496.2" width="1" height="3.8" fill="#fff"/>
<rect x="439.3" y="502.2" width="4" height="4.8" fill="#fff"/>
<rect x="441.3" y="496.2" width="1" height="3.8" fill="#fff"/>
<rect x="445.2" y="502.2" width="4" height="4.8" fill="#fff"/>
<rect x="447.2" y="496.2" width="1" height="3.8" fill="#fff"/>
<rect x="451.1" y="502.2" width="4" height="4.8" fill="#fff"/>
<rect x="453.1" y="496.2" width="1" height="3.8" fill="#fff"/>
<rect x="457" y="502.2" width="4" height="4.8" fill="#fff"/>
<rect x="459" y="496.2" width="1" height="3.8" fill="#fff"/>
<rect x="462.9" y="502.2" width="4" height="4.8" fill="#fff"/>
<rect x="464.9" y="496.2" width="1" height="3.8" fill="#fff"/>
<rect x="468.8" y="502.2" width="4" height="4.8" fill="#fff"/>
<rect x="470.8" y="496.2" width="1" height="3.8" fill="#fff"/>
<rect x="474.7" y="502.2" width="4" height="4.8" fill="#fff"/>
<rect x="476.7" y="496.2" width="1" height="3.8" fill="#fff"/>
<rect x="480.6" y="502.2" width="4" height="4.8" fill="#fff"/>
<rect x="482.6" y="496.2" width="1" height="3.8" fill="#fff"/>
<rect x="486.5" y="502.2" width="4" height="4.8" fill="#fff"/>
<rect x="488.5" y="496.2" width="1" height="3.8" fill="#fff"/>
<rect x="492.4" y="502.2" width="4" height="4.8" fill="#fff"/>
<rect x="494.4" y="496.2" width="1" height="3.8" fill="#fff"/>
<rect x="498.3" y="502.2" width="4" height="4.8" fill="#fff"/>
<rect x="500.3" y="496.2" width="1" height="3.8" fill="#fff"/>
<rect x="504.2" y="502.2" width="4" height="4.8" fill="#fff"/>
<rect x="506.2" y="496.2" width="1" height="3.8" fill="#fff"/>
<rect x="336.8" y="508" width="1.9" height="0.8" fill="#000"/>
<rect x="339.75" y="508" width="1.9" height="0.8" fill="#000"/>
<rect x="342.7" y="508" width="1.9" height="0.8" fill="#000"/>
<rect x="345.65" y="508" width="1.9" height="0.8" fill="#000"/>
<rect x="348.6" y="508" width="1.9" height="0.8" fill="#000"/>
<rect x="351.55" y="508" width="1.9" height="0.8" fill="#000"/>
<rect x="354.5" y="508" width="1.9" height="0.8" fill="#000"/>
<rect x="357.45" y="508" width="1.9" height="0.8" fill="#000"/>
<rect x="360.4" y="508" width="1.9" height="0.8" fill="#000"/>
<rect x="363.35" y="508" width="1.9" height="0.8" fill="#000"/>
<rect x="366.3" y="508" width="1.9" height="0.8" fill="#000"/>
<rect x="369.25" y="508" width="1.9" height="0.8" fill="#000"/>
<rect x="372.2" y="508" width="1.9" height="0.8" fill="#000"/>
<rect x="375.15" y="508" width="1.9" height="0.8" fill="#000"/>
<rect x="378.1" y="508" width="1.9" height="0.8" fill="#000"/>
<rect x="381.05" y="508" width="1.9" height="0.8" fill="#000"/>
<rect x="384" y="508" width="1.9" height="0.8" fill="#000"/>
<rect x="386.95" y="508" width="1.9" height="0.8" fill="#000"/>
<rect x="389.9" y="508" width="1.9" height="0.8" fill="#000"/>
<rect x="392.85" y="508" width="1.9" height="0.8" fill="#000"/>
<rect x="395.8" y="508" width="1.9" height="0.8" fill="#000"/>
<rect x="398.75" y="508" width="1.9" height="0.8" fill="#000"/>
<rect x="401.7" y="508" width="1.9" height="0.8" fill="#000"/>
<rect x="404.65" y="508" width="1.9" height="0.8" fill="#000"/>
<rect x="407.6" y="508" width="1.9" height="0.8" fill="#000"/>
<rect x="410.55" y="508" width="1.9" height="0.8" fill="#000"/>
<rect x="413.5" y="508" width="1.9" height="0.8" fill="#000"/>
<rect x="416.45" y="508" width="1.9" height="0.8" fill="#000"/>
<rect x="419.4" y="508" width="1.9" height="0.8" fill="#000"/>
<rect x="422.35" y="508" width="1.9" height="0.8" fill="#000"/>
<rect x="425.3" y="508" width="1.9" height="0.8" fill="#000"/>
<rect x="428.25" y="508" width="1.9" height="0.8" fill="#000"/>
<rect x="431.2" y="508" width="1.9" height="0.8" fill="#000"/>
<rect x="434.15" y="508" width="1.9" height="0.8" fill="#000"/>
<rect x="437.1" y="508" width="1.9" height="0.8" fill="#000"/>
<rect x="440.05" y="508" width="1.9" height="0.8" fill="#000"/>
<rect x="443" y="508" width="1.9" height="0.8" fill="#000"/>
<rect x="445.95" y="508" width="1.9" height="0.8" fill="#000"/>
<rect x="448.9" y="508" width="1.9" height="0.8" fill="#000"/>
<rect x="451.85" y="508" width="1.9" height="0.8" fill="#000"/>
<rect x="454.8" y="508" width="1.9" height="0.8" fill="#000"/>
<rect x="457.75" y="508" width="1.9" height="0.8" fill="#000"/>
<rect x="460.7" y="508" width="1.9" height="0.8" fill="#000"/>
<rect x="463.65" y="508" width="1.9" height="0.8" fill="#000"/>
<rect x="466.6" y="508" width="1.9" height="0.8" fill="#000"/>
<rect x="469.55" y="508" width="1.9" height="0.8" fill="#000"/>
<rect x="472.5" y="508" width="1.9" height="0.8" fill="#000"/>
<rect x="475.45" y="508" width="1.9" height="0.8" fill="#000"/>
<rect x="478.4" y="508" width="1.9" height="0.8" fill="#000"/>
<rect x="481.35" y="508" width="1.9" height="0.8" fill="#000"/>
<rect x="484.3" y="508" width="1.9" height="0.8" fill="#000"/>
<rect x="487.25" y="508" width="1.9" height="0.8" fill="#000"/>
<rect x="490.2" y="508" width="1.9" height="0.8" fill="#000"/>
<rect x="493.15" y="508" width="1.9" height="0.8" fill="#000"/>
<rect x="496.1" y="508" width="1.9" height="0.8" fill="#000"/>
<rect x="499.05" y="508" width="1.9" height="0.8" fill="#000"/>
<rect x="502" y="508" width="1.9" height="0.8" fill="#000"/>
<rect x="504.95" y="508" width="1.9" height="0.8" fill="#000"/>
<rect x="507.9" y="508" width="1.9" height="0.8" fill="#000"/>
</g>
<rect x="395.1" y="383.2" width="57.8" height="15.1" rx="2.5" fill="#fff" stroke="#000" stroke-width="1.4"/>
<rect x="395.1" y="463.2" width="57.8" height="14.5" rx="2.5" fill="#fff" stroke="#000" stroke-width="1.4"/>
<g shape-rendering="crispEdges">
<rect x="557" y="392" width="24" height="112" fill="#000"/>
<rect x="558" y="393" width="15" height="110" fill="#fff"/>
<rect x="574" y="393" width="6" height="110" fill="#fff"/>
<rect x="561" y="392" width="4" height="2.5" fill="#000"/>
<rect x="562" y="392" width="2" height="1.6" fill="#fff"/>
<rect x="561" y="501.6" width="4" height="2.4" fill="#000"/>
<rect x="562" y="502.6" width="2" height="1.4" fill="#fff"/>
<rect x="560" y="398" width="7" height="6.9" fill="#000"/>
<rect x="561" y="399" width="5" height="4.9" fill="#fff"/>
<rect x="560" y="408.3" width="7" height="6.9" fill="#000"/>
<rect x="561" y="409.3" width="5" height="4.9" fill="#fff"/>
<rect x="560" y="417.4" width="7" height="6.9" fill="#000"/>
<rect x="561" y="418.4" width="5" height="4.9" fill="#fff"/>
<rect x="560" y="426.5" width="7" height="6.9" fill="#000"/>
<rect x="561" y="427.5" width="5" height="4.9" fill="#fff"/>
<rect x="560" y="435.6" width="7" height="6.9" fill="#000"/>
<rect x="561" y="436.6" width="5" height="4.9" fill="#fff"/>
<rect x="560" y="445.5" width="7" height="6.9" fill="#000"/>
<rect x="561" y="446.5" width="5" height="4.9" fill="#fff"/>
<rect x="560" y="454.3" width="7" height="6.9" fill="#000"/>
<rect x="561" y="455.3" width="5" height="4.9" fill="#fff"/>
<rect x="560" y="463.4" width="7" height="6.9" fill="#000"/>
<rect x="561" y="464.4" width="5" height="4.9" fill="#fff"/>
<rect x="560" y="472.3" width="7" height="6.9" fill="#000"/>
<rect x="561" y="473.3" width="5" height="4.9" fill="#fff"/>
<rect x="560" y="481.6" width="7" height="6.9" fill="#000"/>
<rect x="561" y="482.6" width="5" height="4.9" fill="#fff"/>
<rect x="560" y="491.3" width="7" height="6.9" fill="#000"/>
<rect x="561" y="492.3" width="5" height="4.9" fill="#fff"/>
<rect x="568" y="394.3" width="3" height="6.4" fill="#000"/>
<rect x="575" y="394.6" width="2.4" height="5.9" fill="#000"/>
<rect x="574" y="395.9" width="4.4" height="3.2" fill="#000"/>
<rect x="568" y="403.4" width="3" height="6.4" fill="#000"/>
<rect x="575" y="403.7" width="2.4" height="5.9" fill="#000"/>
<rect x="574" y="405" width="4.4" height="3.2" fill="#000"/>
<rect x="568" y="412.3" width="3" height="6.4" fill="#000"/>
<rect x="575" y="412.6" width="2.4" height="5.9" fill="#000"/>
<rect x="574" y="413.9" width="4.4" height="3.2" fill="#000"/>
<rect x="568" y="421.6" width="3" height="6.4" fill="#000"/>
<rect x="575" y="421.9" width="2.4" height="5.9" fill="#000"/>
<rect x="574" y="423.2" width="4.4" height="3.2" fill="#000"/>
<rect x="568" y="431.3" width="3" height="6.4" fill="#000"/>
<rect x="575" y="431.6" width="2.4" height="5.9" fill="#000"/>
<rect x="574" y="432.9" width="4.4" height="3.2" fill="#000"/>
<rect x="568" y="440.4" width="3" height="6.4" fill="#000"/>
<rect x="575" y="440.7" width="2.4" height="5.9" fill="#000"/>
<rect x="574" y="442" width="4.4" height="3.2" fill="#000"/>
<rect x="568" y="449.1" width="3" height="6.4" fill="#000"/>
<rect x="575" y="449.4" width="2.4" height="5.9" fill="#000"/>
<rect x="574" y="450.7" width="4.4" height="3.2" fill="#000"/>
<rect x="568" y="458.3" width="3" height="6.4" fill="#000"/>
<rect x="575" y="458.6" width="2.4" height="5.9" fill="#000"/>
<rect x="574" y="459.9" width="4.4" height="3.2" fill="#000"/>
<rect x="568" y="467.4" width="3" height="6.4" fill="#000"/>
<rect x="575" y="467.7" width="2.4" height="5.9" fill="#000"/>
<rect x="574" y="469" width="4.4" height="3.2" fill="#000"/>
<rect x="568" y="477" width="3" height="6.4" fill="#000"/>
<rect x="575" y="477.3" width="2.4" height="5.9" fill="#000"/>
<rect x="574" y="478.6" width="4.4" height="3.2" fill="#000"/>
<rect x="568" y="486.2" width="3" height="6.4" fill="#000"/>
<rect x="575" y="486.5" width="2.4" height="5.9" fill="#000"/>
<rect x="574" y="487.8" width="4.4" height="3.2" fill="#000"/>
<rect x="568" y="495.3" width="3" height="6.4" fill="#000"/>
<rect x="575" y="495.6" width="2.4" height="5.9" fill="#000"/>
<rect x="574" y="496.9" width="4.4" height="3.2" fill="#000"/>
</g>
<path d="M600 376.5 H620.5 Q623.5 376.5 623.5 380 Q622 384 623 388 Q621 393 623.5 398 Q622 403 622 407 Q624 410 623 413.5 Q623 416.5 620 416.5 H600.5 Q597.5 416.5 598 413 Q599 405 598 400 L596.5 396.5 L598 393 Q599 386 598 380 Q597.5 376.5 600 376.5 Z" fill="#fff" stroke="#000" stroke-width="1.25"/>
<g shape-rendering="crispEdges">
<rect x="604" y="439" width="30" height="37" fill="#000"/>
<rect x="628.3" y="435" width="5.7" height="46" fill="#000"/>
<rect x="631.4" y="432" width="2.6" height="51.5" fill="#000"/>
<rect x="601" y="445" width="3" height="25" fill="#000"/>
<rect x="597" y="448" width="5" height="7.6" fill="#000"/>
<rect x="598" y="449" width="3" height="5.6" fill="#fff"/>
<rect x="597" y="459.6" width="5" height="8" fill="#000"/>
<rect x="598" y="460.6" width="3" height="6" fill="#fff"/>
<rect x="602" y="455.4" width="1.6" height="4.2" fill="#fff"/>
</g>
<g shape-rendering="crispEdges">
<rect x="57" y="124.9" width="7" height="25.8" fill="#000"/>
<rect x="58" y="125.9" width="5" height="4.6" fill="#fff"/>
<rect x="59.3" y="127.4" width="2.4" height="1.6" fill="#000"/>
<rect x="58" y="131.2" width="5" height="1" fill="#fff"/>
<rect x="58" y="137.1" width="5" height="1" fill="#fff"/>
<rect x="58" y="137.9" width="5" height="1" fill="#fff"/>
<rect x="58" y="142.6" width="5" height="1" fill="#fff"/>
<rect x="58" y="148.7" width="5" height="1" fill="#fff"/>
<rect x="57.3" y="161" width="6.9" height="18.9" fill="#000"/>
<rect x="58.3" y="162" width="4.9" height="4.6" fill="#fff"/>
<rect x="59.6" y="163.5" width="2.3" height="1.6" fill="#000"/>
<rect x="58.3" y="167.4" width="4.9" height="1" fill="#fff"/>
<rect x="58.3" y="172.9" width="4.9" height="1" fill="#fff"/>
<rect x="57.3" y="188.4" width="6.9" height="13.4" fill="#000"/>
<rect x="58.3" y="190.3" width="4.9" height="1" fill="#fff"/>
<rect x="58.3" y="194.8" width="4.9" height="1" fill="#fff"/>
<rect x="58.3" y="199.2" width="4.9" height="1" fill="#fff"/>
<rect x="57.3" y="207" width="6.9" height="25.7" fill="#000"/>
<rect x="58.3" y="208" width="4.9" height="4" fill="#fff"/>
<rect x="59.6" y="209.2" width="2.3" height="1.6" fill="#000"/>
<rect x="58.3" y="213.6" width="4.9" height="1" fill="#fff"/>
<rect x="58.3" y="218.6" width="4.9" height="1" fill="#fff"/>
<rect x="58.3" y="223.8" width="4.9" height="1" fill="#fff"/>
<rect x="58.3" y="229.6" width="4.9" height="1" fill="#fff"/>
<rect x="57.3" y="237" width="6.9" height="13.6" fill="#000"/>
<rect x="58.3" y="238.5" width="4.9" height="1" fill="#fff"/>
<rect x="58.3" y="243.5" width="4.9" height="1" fill="#fff"/>
<rect x="58.3" y="248" width="4.9" height="1" fill="#fff"/>
<rect x="219" y="146" width="6.6" height="18.8" fill="#000"/>
<rect x="220" y="147.4" width="4.6" height="5" fill="#fff"/>
<rect x="220.8" y="148.2" width="3" height="3.2" fill="#000"/>
<rect x="221.7" y="149.1" width="1.2" height="1.3" fill="#fff"/>
<rect x="220" y="157.2" width="4.6" height="2.2" fill="#fff"/>
<rect x="602" y="320" width="26" height="6" fill="#000"/>
<rect x="603" y="321" width="1" height="4" fill="#fff"/>
<rect x="609" y="321" width="1" height="4" fill="#fff"/>
<rect x="615" y="321" width="1" height="4" fill="#fff"/>
<rect x="621" y="321" width="1" height="4" fill="#fff"/>
<rect x="623" y="321.1" width="4" height="3.9" fill="#fff"/>
<rect x="624" y="322" width="2" height="2" fill="#000"/>
<rect x="240" y="143.9" width="13.7" height="6.8" fill="#000"/>
<rect x="241" y="145" width="1.1" height="5" fill="#fff"/>
<rect x="245.9" y="145" width="2.3" height="5" fill="#fff"/>
<rect x="252" y="145" width="1.1" height="5" fill="#fff"/>
<rect x="240" y="155" width="13.7" height="6.5" fill="#000"/>
<rect x="241" y="156" width="11.7" height="4.5" fill="#fff"/>
<rect x="242.1" y="156" width="3.8" height="3.4" fill="#000"/>
<rect x="248.2" y="156" width="3.8" height="3.4" fill="#000"/>
<rect x="240" y="164.9" width="13.7" height="6.8" fill="#000"/>
<rect x="241" y="166" width="1.1" height="5" fill="#fff"/>
<rect x="245.9" y="166" width="2.3" height="5" fill="#fff"/>
<rect x="252" y="166" width="1.1" height="5" fill="#fff"/>
<rect x="189" y="190" width="19" height="7" fill="#000"/>
<rect x="190" y="191" width="17" height="1" fill="#fff"/>
<rect x="190" y="192" width="1" height="4" fill="#fff"/>
<rect x="192" y="193" width="3" height="2" fill="#fff"/>
<rect x="201" y="192.4" width="1" height="3.6" fill="#fff"/>
<rect x="195.5" y="192.4" width="0.5" height="3.6" fill="#fff"/>
<rect x="189" y="200" width="19" height="7" fill="#000"/>
<rect x="190" y="201" width="1" height="5" fill="#fff"/>
<rect x="192" y="202" width="3" height="3" fill="#fff"/>
<rect x="201" y="201" width="2" height="5" fill="#fff"/>
<rect x="195.5" y="201" width="0.5" height="5" fill="#fff"/>
</g>
<rect x="8.15" y="130.05" width="33.7" height="16.8" rx="2.6" fill="#fff" stroke="#000" stroke-width="2.1"/>
<path d="M40 134.8 L42.4 134.8 L50.304 137.5 L57.6 137.55 L57.6 138.65 L50.304 138.7 L42.4 141.8 L40 141.8" fill="#fff" stroke="#000" stroke-width="1.55" stroke-linejoin="round"/>
<rect x="8.15" y="164.05" width="33.7" height="16.2" rx="2.6" fill="#fff" stroke="#000" stroke-width="2.1"/>
<path d="M40 168.7 L42.4 168.7 L50.304 171.4 L57.6 171.45 L57.6 172.55 L50.304 172.6 L42.4 175.7 L40 175.7" fill="#fff" stroke="#000" stroke-width="1.55" stroke-linejoin="round"/>
<rect x="8.15" y="185.95" width="33.7" height="15.9" rx="2.6" fill="#fff" stroke="#000" stroke-width="2.1"/>
<path d="M40 190.6 L42.4 190.6 L50.304 193.3 L57.6 193.35 L57.6 194.45 L50.304 194.5 L42.4 197.6 L40 197.6" fill="#fff" stroke="#000" stroke-width="1.55" stroke-linejoin="round"/>
<rect x="8.15" y="208.95" width="33.7" height="16.4" rx="2.6" fill="#fff" stroke="#000" stroke-width="2.1"/>
<path d="M40 214.3 L42.4 214.3 L50.304 217 L57.6 217.05 L57.6 218.15 L50.304 218.2 L42.4 221.3 L40 221.3" fill="#fff" stroke="#000" stroke-width="1.55" stroke-linejoin="round"/>
<rect x="8.15" y="234.85" width="33.7" height="16.2" rx="2.6" fill="#fff" stroke="#000" stroke-width="2.1"/>
<path d="M40 239.5 L42.4 239.5 L50.304 242.2 L57.6 242.25 L57.6 243.35 L50.304 243.4 L42.4 246.5 L40 246.5" fill="#fff" stroke="#000" stroke-width="1.55" stroke-linejoin="round"/>
<rect x="552.95" y="314.95" width="33.5" height="15.7" rx="2.6" fill="#fff" stroke="#000" stroke-width="1.9"/>
<path d="M584.5 319.6 L586.9 319.6 L594.65 322.4 L602.4 322.45 L602.4 323.55 L594.65 323.6 L586.9 326.4 L584.5 326.4" fill="#fff" stroke="#000" stroke-width="1.55" stroke-linejoin="round"/>
<rect x="170.4" y="148" width="33.1" height="16.7" rx="2.6" fill="#fff" stroke="#000" stroke-width="2.0"/>
<path d="M201.6 152.3 L204 152.3 L211.904 155.1 L219.2 155.15 L219.2 156.25 L211.904 156.3 L204 159.7 L201.6 159.7" fill="#fff" stroke="#000" stroke-width="1.55" stroke-linejoin="round"/>
<rect x="261.3" y="124" width="32.2" height="15.7" rx="3" fill="#fff" stroke="#000" stroke-width="2.0"/>
<path d="M262 136.2 L261.3 138.4 L254 146.4 L255 147.5 L263.8 141 L266.6 139" fill="#fff" stroke="#000" stroke-width="1.55" stroke-linejoin="round"/>
<path d="M262.5 135.6 L262.5 138.6 L266 138.6 Z" fill="#fff"/>
<rect x="269" y="151" width="33.8" height="15.5" rx="3" fill="#fff" stroke="#000" stroke-width="2.0"/>
<path d="M271 154.8 L268.6 154.8 L261.25 157.8 L253.9 157.85 L253.9 158.95 L261.25 159 L268.6 162.4 L271 162.4" fill="#fff" stroke="#000" stroke-width="1.55" stroke-linejoin="round"/>
<rect x="261" y="174.8" width="31.8" height="16.1" rx="3" fill="#fff" stroke="#000" stroke-width="2.0"/>
<path d="M261.8 179.2 L261 177.2 L254.1 169.2 L255.1 168.1 L263.4 174.2 L266.4 175.6" fill="#fff" stroke="#000" stroke-width="1.55" stroke-linejoin="round"/>
<path d="M262.3 179.6 L262.3 176.2 L266 176.2 Z" fill="#fff"/>
<rect x="224.35" y="185.95" width="33.5" height="16.9" rx="2.8" fill="#fff" stroke="#000" stroke-width="2.1"/>
<path d="M226.3 189.9 L223.9 189.9 L215.85 192.9 L207.8 192.95 L207.8 194.05 L215.85 194.1 L223.9 197.7 L226.3 197.7" fill="#fff" stroke="#000" stroke-width="1.55" stroke-linejoin="round"/>
<rect x="184.25" y="223.75" width="31.1" height="15.6" rx="2.6" fill="#fff" stroke="#000" stroke-width="1.9"/>
<path d="M198 206.5 L200.4 206.5 L202.4 218 L203.3 224 L195.9 224 L197 218 Z" fill="#000"/>
<path d="M198.2 225 L199.2 219 L199.8 219 L200.8 225 Z" fill="#fff"/>
<rect x="226.8" y="239.9" width="31.4" height="17.1" rx="2.8" fill="#fff" stroke="#000" stroke-width="1.8"/>
<text transform="translate(111.4 0) scale(0.9 1)" x="0 0 0 0 0 0" y="45.2 59.6 73.2 88 95 102.2" font-size="12.5" text-anchor="middle">BANK 1</text>
<text transform="translate(200.6 0) scale(0.9 1)" x="0 0 0 0 0 0" y="45.2 59.6 73.2 88 95 102.2" font-size="12.5" text-anchor="middle">BANK 0</text>
<text transform="translate(134.6 73.2) scale(0.78 1)" font-size="13" text-anchor="start" textLength="57.18" lengthAdjust="spacing">CACHE</text>
<text transform="translate(319 35.5) scale(0.9 1)" font-size="12" text-anchor="start" textLength="32.89" lengthAdjust="spacing">BIOS</text>
<text transform="translate(483.6 46.7) scale(0.88 1)" font-size="11.5" text-anchor="start" textLength="48.86" lengthAdjust="spacing">MH2212</text>
<text transform="translate(427.8 327.6) scale(0.85 1)" font-size="12.5" text-anchor="start" textLength="29.41" lengthAdjust="spacing">KBD</text>
<text transform="translate(401 395.2) scale(0.74 1)" font-size="13.5" text-anchor="start" textLength="61.35" lengthAdjust="spacing">BANK 0</text>
<text transform="translate(401 475) scale(0.74 1)" font-size="13.5" text-anchor="start" textLength="60.27" lengthAdjust="spacing">BANK 1</text>
<text transform="translate(119 170.4) scale(0.8 1)" font-size="13" text-anchor="start" textLength="33.00" lengthAdjust="spacing">CPU</text>
<text transform="translate(124.4 265) scale(0.74 1)" font-size="10.5" text-anchor="start" textLength="24.59" lengthAdjust="spacing">CPU</text>
<text transform="translate(122.4 392.4) scale(0.85 1)" font-size="13.5" text-anchor="start" textLength="31.06" lengthAdjust="spacing">NPU</text>
<text transform="translate(229.2 252.2) scale(0.74 1)" font-size="13" text-anchor="start" textLength="34.59" lengthAdjust="spacing">TAG</text>
<text transform="translate(11.6 141.4) scale(0.74 1)" font-size="13" text-anchor="start" textLength="31.62" lengthAdjust="spacing">CN1</text>
<text transform="translate(11.6 175.8) scale(0.74 1)" font-size="13" text-anchor="start" textLength="31.62" lengthAdjust="spacing">CN2</text>
<text transform="translate(11.6 198.6) scale(0.74 1)" font-size="13" text-anchor="start" textLength="31.62" lengthAdjust="spacing">CN3</text>
<text transform="translate(11.6 221.6) scale(0.74 1)" font-size="13" text-anchor="start" textLength="31.62" lengthAdjust="spacing">CN4</text>
<text transform="translate(11.6 246.8) scale(0.74 1)" font-size="13" text-anchor="start" textLength="31.62" lengthAdjust="spacing">CN5</text>
<text transform="translate(556.8 326.8) scale(0.74 1)" font-size="13" text-anchor="start" textLength="32.16" lengthAdjust="spacing">CN6</text>
<text transform="translate(265 135.8) scale(0.74 1)" font-size="13" text-anchor="start" textLength="29.46" lengthAdjust="spacing">JP6</text>
<text transform="translate(273.4 162.6) scale(0.74 1)" font-size="13" text-anchor="start" textLength="29.19" lengthAdjust="spacing">JP5</text>
<text transform="translate(264.8 187.5) scale(0.74 1)" font-size="13" text-anchor="start" textLength="28.38" lengthAdjust="spacing">JP4</text>
<text transform="translate(229.4 198.4) scale(0.74 1)" font-size="13" text-anchor="start" textLength="29.46" lengthAdjust="spacing">JP3</text>
<text transform="translate(187.8 235.6) scale(0.74 1)" font-size="13" text-anchor="start" textLength="30.27" lengthAdjust="spacing">JP2</text>
<text transform="translate(174.8 159.6) scale(0.74 1)" font-size="13" text-anchor="start" textLength="29.19" lengthAdjust="spacing">JP7</text>
</svg>
</body>
</html>
